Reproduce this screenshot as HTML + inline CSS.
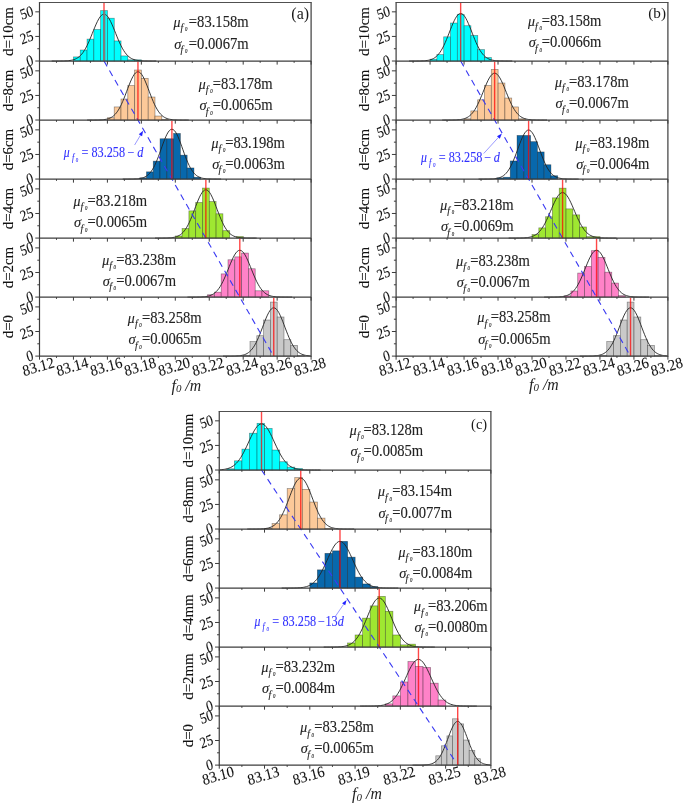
<!DOCTYPE html>
<html><head><meta charset="utf-8"><title>Histograms of f0</title>
<style>
html,body{margin:0;padding:0;background:#ffffff;}
body{width:685px;height:803px;overflow:hidden;font-family:"Liberation Serif",serif;}
svg{display:block;will-change:transform;}
</style></head><body>
<svg width="685" height="803" viewBox="0 0 685 803">
<rect x="73.45" y="56.92" width="6.80" height="4.10" fill="#00ffff" stroke="#000" stroke-opacity="0.42" stroke-width="0.7"/>
<rect x="80.25" y="50.02" width="6.80" height="11.00" fill="#00ffff" stroke="#000" stroke-opacity="0.42" stroke-width="0.7"/>
<rect x="87.05" y="39.12" width="6.80" height="21.90" fill="#00ffff" stroke="#000" stroke-opacity="0.42" stroke-width="0.7"/>
<rect x="93.85" y="29.52" width="6.80" height="31.50" fill="#00ffff" stroke="#000" stroke-opacity="0.42" stroke-width="0.7"/>
<rect x="100.65" y="10.62" width="6.80" height="50.40" fill="#00ffff" stroke="#000" stroke-opacity="0.42" stroke-width="0.7"/>
<rect x="107.45" y="18.22" width="6.80" height="42.80" fill="#00ffff" stroke="#000" stroke-opacity="0.42" stroke-width="0.7"/>
<rect x="114.25" y="40.92" width="6.80" height="20.10" fill="#00ffff" stroke="#000" stroke-opacity="0.42" stroke-width="0.7"/>
<rect x="121.05" y="55.92" width="6.80" height="5.10" fill="#00ffff" stroke="#000" stroke-opacity="0.42" stroke-width="0.7"/>
<rect x="127.85" y="59.82" width="6.80" height="1.20" fill="#00ffff" stroke="#000" stroke-opacity="0.42" stroke-width="0.7"/>
<rect x="134.65" y="59.82" width="6.80" height="1.20" fill="#00ffff" stroke="#000" stroke-opacity="0.42" stroke-width="0.7"/>
<polyline points="51.69,61.02 53.00,61.01 54.30,61.01 55.61,61.01 56.92,61.01 58.23,61.00 59.54,60.99 60.84,60.98 62.15,60.96 63.46,60.94 64.77,60.89 66.08,60.84 67.38,60.75 68.69,60.64 70.00,60.48 71.31,60.27 72.61,59.98 73.92,59.60 75.23,59.11 76.54,58.48 77.85,57.69 79.15,56.71 80.46,55.52 81.77,54.09 83.08,52.40 84.39,50.43 85.69,48.20 87.00,45.69 88.31,42.94 89.62,39.97 90.93,36.83 92.23,33.59 93.54,30.33 94.85,27.13 96.16,24.09 97.47,21.30 98.77,18.87 100.08,16.87 101.39,15.39 102.70,14.47 104.00,14.16 105.31,14.47 106.62,15.39 107.93,16.87 109.24,18.87 110.54,21.30 111.85,24.09 113.16,27.13 114.47,30.33 115.78,33.59 117.08,36.83 118.39,39.97 119.70,42.94 121.01,45.69 122.32,48.20 123.62,50.43 124.93,52.40 126.24,54.09 127.55,55.52 128.86,56.71 130.16,57.69 131.47,58.48 132.78,59.11 134.09,59.60 135.40,59.98 136.70,60.27 138.01,60.48 139.32,60.64 140.63,60.75 141.93,60.84 143.24,60.89 144.55,60.94 145.86,60.96 147.17,60.98 148.47,60.99 149.78,61.00 151.09,61.01 152.40,61.01 153.71,61.01 155.01,61.01 156.32,61.02" fill="none" stroke="#222" stroke-width="0.9"/>
<rect x="107.40" y="117.73" width="6.80" height="2.30" fill="#fcc999" stroke="#000" stroke-opacity="0.42" stroke-width="0.7"/>
<rect x="114.20" y="106.93" width="6.80" height="13.10" fill="#fcc999" stroke="#000" stroke-opacity="0.42" stroke-width="0.7"/>
<rect x="121.00" y="99.03" width="6.80" height="21.00" fill="#fcc999" stroke="#000" stroke-opacity="0.42" stroke-width="0.7"/>
<rect x="127.80" y="85.53" width="6.80" height="34.50" fill="#fcc999" stroke="#000" stroke-opacity="0.42" stroke-width="0.7"/>
<rect x="134.60" y="70.03" width="6.80" height="50.00" fill="#fcc999" stroke="#000" stroke-opacity="0.42" stroke-width="0.7"/>
<rect x="141.40" y="78.33" width="6.80" height="41.70" fill="#fcc999" stroke="#000" stroke-opacity="0.42" stroke-width="0.7"/>
<rect x="148.20" y="97.03" width="6.80" height="23.00" fill="#fcc999" stroke="#000" stroke-opacity="0.42" stroke-width="0.7"/>
<rect x="155.00" y="116.03" width="6.80" height="4.00" fill="#fcc999" stroke="#000" stroke-opacity="0.42" stroke-width="0.7"/>
<rect x="161.80" y="119.43" width="6.80" height="0.60" fill="#fcc999" stroke="#000" stroke-opacity="0.42" stroke-width="0.7"/>
<polyline points="87.20,120.03 88.47,120.03 89.74,120.03 91.01,120.03 92.28,120.02 93.54,120.02 94.81,120.01 96.08,120.00 97.35,119.98 98.62,119.95 99.89,119.91 101.16,119.85 102.43,119.76 103.70,119.64 104.96,119.48 106.23,119.26 107.50,118.96 108.77,118.57 110.04,118.07 111.31,117.42 112.58,116.60 113.85,115.60 115.12,114.36 116.38,112.89 117.65,111.15 118.92,109.12 120.19,106.82 121.46,104.24 122.73,101.40 124.00,98.34 125.27,95.10 126.54,91.77 127.80,88.40 129.07,85.10 130.34,81.97 131.61,79.10 132.88,76.59 134.15,74.53 135.42,73.00 136.69,72.06 137.95,71.74 139.22,72.06 140.49,73.00 141.76,74.53 143.03,76.59 144.30,79.10 145.57,81.97 146.84,85.10 148.11,88.40 149.37,91.77 150.64,95.10 151.91,98.34 153.18,101.40 154.45,104.24 155.72,106.82 156.99,109.12 158.26,111.15 159.53,112.89 160.79,114.36 162.06,115.60 163.33,116.60 164.60,117.42 165.87,118.07 167.14,118.57 168.41,118.96 169.68,119.26 170.95,119.48 172.21,119.64 173.48,119.76 174.75,119.85 176.02,119.91 177.29,119.95 178.56,119.98 179.83,120.00 181.10,120.01 182.37,120.02 183.63,120.02 184.90,120.03 186.17,120.03 187.44,120.03 188.71,120.03" fill="none" stroke="#222" stroke-width="0.9"/>
<rect x="139.70" y="177.85" width="6.78" height="1.20" fill="#0868ac" stroke="#000" stroke-opacity="0.42" stroke-width="0.7"/>
<rect x="146.48" y="171.85" width="6.78" height="7.20" fill="#0868ac" stroke="#000" stroke-opacity="0.42" stroke-width="0.7"/>
<rect x="153.26" y="161.15" width="6.78" height="17.90" fill="#0868ac" stroke="#000" stroke-opacity="0.42" stroke-width="0.7"/>
<rect x="160.04" y="138.75" width="6.78" height="40.30" fill="#0868ac" stroke="#000" stroke-opacity="0.42" stroke-width="0.7"/>
<rect x="166.82" y="138.75" width="6.78" height="40.30" fill="#0868ac" stroke="#000" stroke-opacity="0.42" stroke-width="0.7"/>
<rect x="173.60" y="133.45" width="6.78" height="45.60" fill="#0868ac" stroke="#000" stroke-opacity="0.42" stroke-width="0.7"/>
<rect x="180.38" y="155.15" width="6.78" height="23.90" fill="#0868ac" stroke="#000" stroke-opacity="0.42" stroke-width="0.7"/>
<rect x="187.16" y="167.95" width="6.78" height="11.10" fill="#0868ac" stroke="#000" stroke-opacity="0.42" stroke-width="0.7"/>
<rect x="193.94" y="177.25" width="6.78" height="1.80" fill="#0868ac" stroke="#000" stroke-opacity="0.42" stroke-width="0.7"/>
<polyline points="122.71,179.05 123.94,179.05 125.17,179.05 126.40,179.04 127.63,179.04 128.86,179.03 130.09,179.03 131.32,179.01 132.55,178.99 133.78,178.96 135.01,178.92 136.24,178.86 137.47,178.77 138.70,178.65 139.93,178.48 141.16,178.25 142.39,177.95 143.62,177.54 144.85,177.02 146.08,176.35 147.31,175.51 148.54,174.47 149.77,173.20 151.00,171.68 152.23,169.88 153.46,167.80 154.69,165.42 155.92,162.75 157.15,159.82 158.38,156.66 159.61,153.33 160.84,149.88 162.07,146.41 163.30,143.01 164.53,139.78 165.76,136.81 166.99,134.22 168.22,132.10 169.45,130.52 170.68,129.55 171.90,129.22 173.13,129.55 174.36,130.52 175.59,132.10 176.82,134.22 178.05,136.81 179.28,139.78 180.51,143.01 181.74,146.41 182.97,149.88 184.20,153.33 185.43,156.66 186.66,159.82 187.89,162.75 189.12,165.42 190.35,167.80 191.58,169.88 192.81,171.68 194.04,173.20 195.27,174.47 196.50,175.51 197.73,176.35 198.96,177.02 200.19,177.54 201.42,177.95 202.65,178.25 203.88,178.48 205.11,178.65 206.34,178.77 207.57,178.86 208.80,178.92 210.03,178.96 211.26,178.99 212.49,179.01 213.72,179.03 214.95,179.03 216.18,179.04 217.41,179.04 218.64,179.05 219.87,179.05 221.10,179.05" fill="none" stroke="#222" stroke-width="0.9"/>
<rect x="175.30" y="235.97" width="6.80" height="2.10" fill="#9fe731" stroke="#000" stroke-opacity="0.42" stroke-width="0.7"/>
<rect x="182.10" y="228.57" width="6.80" height="9.50" fill="#9fe731" stroke="#000" stroke-opacity="0.42" stroke-width="0.7"/>
<rect x="188.90" y="210.87" width="6.80" height="27.20" fill="#9fe731" stroke="#000" stroke-opacity="0.42" stroke-width="0.7"/>
<rect x="195.70" y="202.47" width="6.80" height="35.60" fill="#9fe731" stroke="#000" stroke-opacity="0.42" stroke-width="0.7"/>
<rect x="202.50" y="188.07" width="6.80" height="50.00" fill="#9fe731" stroke="#000" stroke-opacity="0.42" stroke-width="0.7"/>
<rect x="209.30" y="201.57" width="6.80" height="36.50" fill="#9fe731" stroke="#000" stroke-opacity="0.42" stroke-width="0.7"/>
<rect x="216.10" y="213.77" width="6.80" height="24.30" fill="#9fe731" stroke="#000" stroke-opacity="0.42" stroke-width="0.7"/>
<rect x="222.90" y="230.67" width="6.80" height="7.40" fill="#9fe731" stroke="#000" stroke-opacity="0.42" stroke-width="0.7"/>
<rect x="236.50" y="236.57" width="6.80" height="1.50" fill="#9fe731" stroke="#000" stroke-opacity="0.42" stroke-width="0.7"/>
<polyline points="155.10,238.07 156.37,238.06 157.64,238.06 158.91,238.06 160.18,238.06 161.44,238.05 162.71,238.04 163.98,238.03 165.25,238.01 166.52,237.98 167.79,237.94 169.06,237.88 170.33,237.80 171.60,237.68 172.86,237.51 174.13,237.29 175.40,237.00 176.67,236.61 177.94,236.10 179.21,235.45 180.48,234.64 181.75,233.63 183.02,232.40 184.28,230.92 185.55,229.18 186.82,227.16 188.09,224.85 189.36,222.27 190.63,219.43 191.90,216.37 193.17,213.14 194.44,209.80 195.70,206.44 196.97,203.14 198.24,200.00 199.51,197.13 200.78,194.62 202.05,192.56 203.32,191.03 204.59,190.09 205.86,189.77 207.12,190.09 208.39,191.03 209.66,192.56 210.93,194.62 212.20,197.13 213.47,200.00 214.74,203.14 216.01,206.44 217.27,209.80 218.54,213.14 219.81,216.37 221.08,219.43 222.35,222.27 223.62,224.85 224.89,227.16 226.16,229.18 227.43,230.92 228.69,232.40 229.96,233.63 231.23,234.64 232.50,235.45 233.77,236.10 235.04,236.61 236.31,237.00 237.58,237.29 238.85,237.51 240.11,237.68 241.38,237.80 242.65,237.88 243.92,237.94 245.19,237.98 246.46,238.01 247.73,238.03 249.00,238.04 250.27,238.05 251.53,238.06 252.80,238.06 254.07,238.06 255.34,238.06 256.61,238.07" fill="none" stroke="#222" stroke-width="0.9"/>
<rect x="207.60" y="294.78" width="6.80" height="2.30" fill="#ff82c8" stroke="#000" stroke-opacity="0.42" stroke-width="0.7"/>
<rect x="214.40" y="292.18" width="6.80" height="4.90" fill="#ff82c8" stroke="#000" stroke-opacity="0.42" stroke-width="0.7"/>
<rect x="221.20" y="273.88" width="6.80" height="23.20" fill="#ff82c8" stroke="#000" stroke-opacity="0.42" stroke-width="0.7"/>
<rect x="228.00" y="259.78" width="6.80" height="37.30" fill="#ff82c8" stroke="#000" stroke-opacity="0.42" stroke-width="0.7"/>
<rect x="234.80" y="256.88" width="6.80" height="40.20" fill="#ff82c8" stroke="#000" stroke-opacity="0.42" stroke-width="0.7"/>
<rect x="241.60" y="253.08" width="6.80" height="44.00" fill="#ff82c8" stroke="#000" stroke-opacity="0.42" stroke-width="0.7"/>
<rect x="248.40" y="268.78" width="6.80" height="28.30" fill="#ff82c8" stroke="#000" stroke-opacity="0.42" stroke-width="0.7"/>
<rect x="255.20" y="290.78" width="6.80" height="6.30" fill="#ff82c8" stroke="#000" stroke-opacity="0.42" stroke-width="0.7"/>
<rect x="262.00" y="290.78" width="6.80" height="6.30" fill="#ff82c8" stroke="#000" stroke-opacity="0.42" stroke-width="0.7"/>
<polyline points="187.49,297.08 188.80,297.08 190.10,297.08 191.41,297.08 192.72,297.07 194.03,297.07 195.34,297.06 196.64,297.05 197.95,297.03 199.26,297.00 200.57,296.96 201.88,296.90 203.18,296.82 204.49,296.71 205.80,296.55 207.11,296.33 208.41,296.04 209.72,295.67 211.03,295.17 212.34,294.55 213.65,293.76 214.95,292.78 216.26,291.58 217.57,290.15 218.88,288.46 220.19,286.50 221.49,284.26 222.80,281.76 224.11,279.00 225.42,276.03 226.73,272.90 228.03,269.66 229.34,266.40 230.65,263.20 231.96,260.15 233.27,257.37 234.57,254.93 235.88,252.94 237.19,251.45 238.50,250.54 239.80,250.23 241.11,250.54 242.42,251.45 243.73,252.94 245.04,254.93 246.34,257.37 247.65,260.15 248.96,263.20 250.27,266.40 251.58,269.66 252.88,272.90 254.19,276.03 255.50,279.00 256.81,281.76 258.12,284.26 259.42,286.50 260.73,288.46 262.04,290.15 263.35,291.58 264.66,292.78 265.96,293.76 267.27,294.55 268.58,295.17 269.89,295.67 271.20,296.04 272.50,296.33 273.81,296.55 275.12,296.71 276.43,296.82 277.73,296.90 279.04,296.96 280.35,297.00 281.66,297.03 282.97,297.05 284.27,297.06 285.58,297.07 286.89,297.07 288.20,297.08 289.51,297.08 290.81,297.08 292.12,297.08" fill="none" stroke="#222" stroke-width="0.9"/>
<rect x="243.20" y="355.30" width="6.80" height="0.80" fill="#c9c9c9" stroke="#000" stroke-opacity="0.42" stroke-width="0.7"/>
<rect x="250.00" y="341.60" width="6.80" height="14.50" fill="#c9c9c9" stroke="#000" stroke-opacity="0.42" stroke-width="0.7"/>
<rect x="256.80" y="335.70" width="6.80" height="20.40" fill="#c9c9c9" stroke="#000" stroke-opacity="0.42" stroke-width="0.7"/>
<rect x="263.60" y="320.00" width="6.80" height="36.10" fill="#c9c9c9" stroke="#000" stroke-opacity="0.42" stroke-width="0.7"/>
<rect x="270.40" y="302.10" width="6.80" height="54.00" fill="#c9c9c9" stroke="#000" stroke-opacity="0.42" stroke-width="0.7"/>
<rect x="277.20" y="317.00" width="6.80" height="39.10" fill="#c9c9c9" stroke="#000" stroke-opacity="0.42" stroke-width="0.7"/>
<rect x="284.00" y="339.70" width="6.80" height="16.40" fill="#c9c9c9" stroke="#000" stroke-opacity="0.42" stroke-width="0.7"/>
<rect x="290.80" y="345.40" width="6.80" height="10.70" fill="#c9c9c9" stroke="#000" stroke-opacity="0.42" stroke-width="0.7"/>
<rect x="297.60" y="355.60" width="6.80" height="0.50" fill="#c9c9c9" stroke="#000" stroke-opacity="0.42" stroke-width="0.7"/>
<polyline points="223.00,356.10 224.27,356.10 225.54,356.10 226.81,356.09 228.08,356.09 229.34,356.09 230.61,356.08 231.88,356.06 233.15,356.04 234.42,356.02 235.69,355.97 236.96,355.91 238.23,355.83 239.50,355.71 240.76,355.55 242.03,355.33 243.30,355.03 244.57,354.64 245.84,354.13 247.11,353.49 248.38,352.67 249.65,351.66 250.92,350.43 252.18,348.96 253.45,347.21 254.72,345.19 255.99,342.89 257.26,340.30 258.53,337.46 259.80,334.40 261.07,331.17 262.34,327.83 263.60,324.47 264.87,321.17 266.14,318.03 267.41,315.16 268.68,312.65 269.95,310.59 271.22,309.06 272.49,308.12 273.75,307.80 275.02,308.12 276.29,309.06 277.56,310.59 278.83,312.65 280.10,315.16 281.37,318.03 282.64,321.17 283.91,324.47 285.17,327.83 286.44,331.17 287.71,334.40 288.98,337.46 290.25,340.30 291.52,342.89 292.79,345.19 294.06,347.21 295.33,348.96 296.59,350.43 297.86,351.66 299.13,352.67 300.40,353.49 301.67,354.13 302.94,354.64 304.21,355.03 305.48,355.33 306.75,355.55 308.01,355.71 309.28,355.83 310.55,355.91" fill="none" stroke="#222" stroke-width="0.9"/>
<line x1="104.00" y1="61.02" x2="272.95" y2="354.90" stroke="#3a3af2" stroke-width="1.12" stroke-dasharray="6.2 4.8"/>
<line x1="104.00" y1="2.60" x2="104.00" y2="61.02" stroke="#ff0000" stroke-opacity="0.72" stroke-width="1.4"/>
<line x1="104.30" y1="10.62" x2="104.30" y2="61.02" stroke="#7d7d7d" stroke-width="2"/>
<line x1="137.95" y1="61.62" x2="137.95" y2="120.03" stroke="#ff0000" stroke-opacity="0.72" stroke-width="1.4"/>
<line x1="171.90" y1="120.63" x2="171.90" y2="179.05" stroke="#ff0000" stroke-opacity="0.72" stroke-width="1.4"/>
<line x1="205.86" y1="179.65" x2="205.86" y2="238.07" stroke="#ff0000" stroke-opacity="0.72" stroke-width="1.4"/>
<line x1="239.80" y1="238.67" x2="239.80" y2="297.08" stroke="#ff0000" stroke-opacity="0.72" stroke-width="1.4"/>
<line x1="273.75" y1="297.68" x2="273.75" y2="356.10" stroke="#ff0000" stroke-opacity="0.72" stroke-width="1.4"/>
<line x1="38.90" y1="2.47" x2="311.70" y2="2.47" stroke="#505050" stroke-width="1.15"/>
<line x1="39.50" y1="2.47" x2="39.50" y2="356.70" stroke="#3c3c3c" stroke-width="1.2"/>
<line x1="311.10" y1="2.47" x2="311.10" y2="356.70" stroke="#3c3c3c" stroke-width="1.2"/>
<line x1="39.50" y1="61.02" x2="311.10" y2="61.02" stroke="#3c3c3c" stroke-width="1.25"/>
<path d="M39.50,61.02v3.6 M56.48,61.02v1.8 M73.45,61.02v3.6 M90.43,61.02v1.8 M107.40,61.02v3.6 M124.38,61.02v1.8 M141.35,61.02v3.6 M158.33,61.02v1.8 M175.30,61.02v3.6 M192.28,61.02v1.8 M209.25,61.02v3.6 M226.23,61.02v1.8 M243.20,61.02v3.6 M260.18,61.02v1.8 M277.15,61.02v3.6 M294.13,61.02v1.8 M311.10,61.02v3.6" stroke="#3c3c3c" stroke-width="1" fill="none"/>
<path d="M39.50,61.02h-4.2 M39.50,48.72h-2.2 M39.50,36.43h-4.2 M39.50,24.13h-2.2 M39.50,11.84h-4.2" stroke="#3c3c3c" stroke-width="1" fill="none"/>
<text transform="translate(33.00,59.42) scale(0.85,1) rotate(-18.5)" y="5.2" text-anchor="end" font-family="Liberation Serif, serif" font-size="15.6" fill="#111" stroke="#111" stroke-width="0.1">0</text>
<text transform="translate(33.00,34.83) scale(0.85,1) rotate(-18.5)" y="5.2" text-anchor="end" font-family="Liberation Serif, serif" font-size="15.6" fill="#111" stroke="#111" stroke-width="0.1">25</text>
<text transform="translate(33.00,10.24) scale(0.85,1) rotate(-18.5)" y="5.2" text-anchor="end" font-family="Liberation Serif, serif" font-size="15.6" fill="#111" stroke="#111" stroke-width="0.1">50</text>
<text transform="translate(12.80,31.51) rotate(-90)" text-anchor="middle" font-family="Liberation Serif, serif" font-size="14.9" fill="#111" stroke="#111" stroke-width="0.1">d=10cm</text>
<g transform="translate(173.00,26.80) scale(0.925,1)" font-family="Liberation Serif, serif" font-size="15.8" fill="#222" stroke="#222" stroke-width="0.12"><text font-style="italic" font-size="15.0" x="0.6">μ</text><text font-style="italic" font-size="10.6" x="8.22" y="4.4">f</text><text font-size="5.2" font-style="italic" x="12.97" y="4.5">0</text></g>
<text transform="translate(248.60,26.80) scale(0.925,1)" text-anchor="end" font-family="Liberation Serif, serif" font-size="15.8" fill="#222" stroke="#222" stroke-width="0.12">=83.158m</text>
<g transform="translate(174.20,48.60) scale(0.925,1)" font-family="Liberation Serif, serif" font-size="15.8" fill="#222" stroke="#222" stroke-width="0.12"><text font-style="italic" font-size="15.6" x="0">σ</text><text font-style="italic" font-size="10.6" x="6.92" y="4.4">f</text><text font-size="5.2" font-style="italic" x="11.68" y="4.5">0</text></g>
<text transform="translate(248.60,48.60) scale(0.925,1)" text-anchor="end" font-family="Liberation Serif, serif" font-size="15.8" fill="#222" stroke="#222" stroke-width="0.12">=0.0067m</text>
<line x1="39.50" y1="120.03" x2="311.10" y2="120.03" stroke="#3c3c3c" stroke-width="1.25"/>
<path d="M39.50,120.03v3.6 M56.48,120.03v1.8 M73.45,120.03v3.6 M90.43,120.03v1.8 M107.40,120.03v3.6 M124.38,120.03v1.8 M141.35,120.03v3.6 M158.33,120.03v1.8 M175.30,120.03v3.6 M192.28,120.03v1.8 M209.25,120.03v3.6 M226.23,120.03v1.8 M243.20,120.03v3.6 M260.18,120.03v1.8 M277.15,120.03v3.6 M294.13,120.03v1.8 M311.10,120.03v3.6" stroke="#3c3c3c" stroke-width="1" fill="none"/>
<path d="M39.50,120.03h-4.2 M39.50,107.74h-2.2 M39.50,95.44h-4.2 M39.50,83.15h-2.2 M39.50,70.85h-4.2" stroke="#3c3c3c" stroke-width="1" fill="none"/>
<text transform="translate(33.00,118.43) scale(0.85,1) rotate(-18.5)" y="5.2" text-anchor="end" font-family="Liberation Serif, serif" font-size="15.6" fill="#111" stroke="#111" stroke-width="0.1">0</text>
<text transform="translate(33.00,93.84) scale(0.85,1) rotate(-18.5)" y="5.2" text-anchor="end" font-family="Liberation Serif, serif" font-size="15.6" fill="#111" stroke="#111" stroke-width="0.1">25</text>
<text transform="translate(33.00,69.25) scale(0.85,1) rotate(-18.5)" y="5.2" text-anchor="end" font-family="Liberation Serif, serif" font-size="15.6" fill="#111" stroke="#111" stroke-width="0.1">50</text>
<text transform="translate(12.80,90.53) rotate(-90)" text-anchor="middle" font-family="Liberation Serif, serif" font-size="14.9" fill="#111" stroke="#111" stroke-width="0.1">d=8cm</text>
<g transform="translate(198.20,88.70) scale(0.925,1)" font-family="Liberation Serif, serif" font-size="15.8" fill="#222" stroke="#222" stroke-width="0.12"><text font-style="italic" font-size="15.0" x="0.6">μ</text><text font-style="italic" font-size="10.6" x="8.22" y="4.4">f</text><text font-size="5.2" font-style="italic" x="12.97" y="4.5">0</text></g>
<text transform="translate(272.60,88.70) scale(0.925,1)" text-anchor="end" font-family="Liberation Serif, serif" font-size="15.8" fill="#222" stroke="#222" stroke-width="0.12">=83.178m</text>
<g transform="translate(199.40,110.10) scale(0.925,1)" font-family="Liberation Serif, serif" font-size="15.8" fill="#222" stroke="#222" stroke-width="0.12"><text font-style="italic" font-size="15.6" x="0">σ</text><text font-style="italic" font-size="10.6" x="6.92" y="4.4">f</text><text font-size="5.2" font-style="italic" x="11.68" y="4.5">0</text></g>
<text transform="translate(272.60,110.10) scale(0.925,1)" text-anchor="end" font-family="Liberation Serif, serif" font-size="15.8" fill="#222" stroke="#222" stroke-width="0.12">=0.0065m</text>
<line x1="39.50" y1="179.05" x2="311.10" y2="179.05" stroke="#3c3c3c" stroke-width="1.25"/>
<path d="M39.50,179.05v3.6 M56.48,179.05v1.8 M73.45,179.05v3.6 M90.43,179.05v1.8 M107.40,179.05v3.6 M124.38,179.05v1.8 M141.35,179.05v3.6 M158.33,179.05v1.8 M175.30,179.05v3.6 M192.28,179.05v1.8 M209.25,179.05v3.6 M226.23,179.05v1.8 M243.20,179.05v3.6 M260.18,179.05v1.8 M277.15,179.05v3.6 M294.13,179.05v1.8 M311.10,179.05v3.6" stroke="#3c3c3c" stroke-width="1" fill="none"/>
<path d="M39.50,179.05h-4.2 M39.50,166.75h-2.2 M39.50,154.46h-4.2 M39.50,142.16h-2.2 M39.50,129.87h-4.2" stroke="#3c3c3c" stroke-width="1" fill="none"/>
<text transform="translate(33.00,177.45) scale(0.85,1) rotate(-18.5)" y="5.2" text-anchor="end" font-family="Liberation Serif, serif" font-size="15.6" fill="#111" stroke="#111" stroke-width="0.1">0</text>
<text transform="translate(33.00,152.86) scale(0.85,1) rotate(-18.5)" y="5.2" text-anchor="end" font-family="Liberation Serif, serif" font-size="15.6" fill="#111" stroke="#111" stroke-width="0.1">25</text>
<text transform="translate(33.00,128.27) scale(0.85,1) rotate(-18.5)" y="5.2" text-anchor="end" font-family="Liberation Serif, serif" font-size="15.6" fill="#111" stroke="#111" stroke-width="0.1">50</text>
<text transform="translate(12.80,149.54) rotate(-90)" text-anchor="middle" font-family="Liberation Serif, serif" font-size="14.9" fill="#111" stroke="#111" stroke-width="0.1">d=6cm</text>
<g transform="translate(211.00,147.90) scale(0.925,1)" font-family="Liberation Serif, serif" font-size="15.8" fill="#222" stroke="#222" stroke-width="0.12"><text font-style="italic" font-size="15.0" x="0.6">μ</text><text font-style="italic" font-size="10.6" x="8.22" y="4.4">f</text><text font-size="5.2" font-style="italic" x="12.97" y="4.5">0</text></g>
<text transform="translate(284.90,147.90) scale(0.925,1)" text-anchor="end" font-family="Liberation Serif, serif" font-size="15.8" fill="#222" stroke="#222" stroke-width="0.12">=83.198m</text>
<g transform="translate(212.20,168.90) scale(0.925,1)" font-family="Liberation Serif, serif" font-size="15.8" fill="#222" stroke="#222" stroke-width="0.12"><text font-style="italic" font-size="15.6" x="0">σ</text><text font-style="italic" font-size="10.6" x="6.92" y="4.4">f</text><text font-size="5.2" font-style="italic" x="11.68" y="4.5">0</text></g>
<text transform="translate(284.90,168.90) scale(0.925,1)" text-anchor="end" font-family="Liberation Serif, serif" font-size="15.8" fill="#222" stroke="#222" stroke-width="0.12">=0.0063m</text>
<line x1="39.50" y1="238.07" x2="311.10" y2="238.07" stroke="#3c3c3c" stroke-width="1.25"/>
<path d="M39.50,238.07v3.6 M56.48,238.07v1.8 M73.45,238.07v3.6 M90.43,238.07v1.8 M107.40,238.07v3.6 M124.38,238.07v1.8 M141.35,238.07v3.6 M158.33,238.07v1.8 M175.30,238.07v3.6 M192.28,238.07v1.8 M209.25,238.07v3.6 M226.23,238.07v1.8 M243.20,238.07v3.6 M260.18,238.07v1.8 M277.15,238.07v3.6 M294.13,238.07v1.8 M311.10,238.07v3.6" stroke="#3c3c3c" stroke-width="1" fill="none"/>
<path d="M39.50,238.07h-4.2 M39.50,225.77h-2.2 M39.50,213.48h-4.2 M39.50,201.18h-2.2 M39.50,188.89h-4.2" stroke="#3c3c3c" stroke-width="1" fill="none"/>
<text transform="translate(33.00,236.47) scale(0.85,1) rotate(-18.5)" y="5.2" text-anchor="end" font-family="Liberation Serif, serif" font-size="15.6" fill="#111" stroke="#111" stroke-width="0.1">0</text>
<text transform="translate(33.00,211.88) scale(0.85,1) rotate(-18.5)" y="5.2" text-anchor="end" font-family="Liberation Serif, serif" font-size="15.6" fill="#111" stroke="#111" stroke-width="0.1">25</text>
<text transform="translate(33.00,187.29) scale(0.85,1) rotate(-18.5)" y="5.2" text-anchor="end" font-family="Liberation Serif, serif" font-size="15.6" fill="#111" stroke="#111" stroke-width="0.1">50</text>
<text transform="translate(12.80,208.56) rotate(-90)" text-anchor="middle" font-family="Liberation Serif, serif" font-size="14.9" fill="#111" stroke="#111" stroke-width="0.1">d=4cm</text>
<g transform="translate(72.90,205.60) scale(0.925,1)" font-family="Liberation Serif, serif" font-size="15.8" fill="#222" stroke="#222" stroke-width="0.12"><text font-style="italic" font-size="15.0" x="0.6">μ</text><text font-style="italic" font-size="10.6" x="8.22" y="4.4">f</text><text font-size="5.2" font-style="italic" x="12.97" y="4.5">0</text></g>
<text transform="translate(147.20,205.60) scale(0.925,1)" text-anchor="end" font-family="Liberation Serif, serif" font-size="15.8" fill="#222" stroke="#222" stroke-width="0.12">=83.218m</text>
<g transform="translate(74.10,227.10) scale(0.925,1)" font-family="Liberation Serif, serif" font-size="15.8" fill="#222" stroke="#222" stroke-width="0.12"><text font-style="italic" font-size="15.6" x="0">σ</text><text font-style="italic" font-size="10.6" x="6.92" y="4.4">f</text><text font-size="5.2" font-style="italic" x="11.68" y="4.5">0</text></g>
<text transform="translate(147.20,227.10) scale(0.925,1)" text-anchor="end" font-family="Liberation Serif, serif" font-size="15.8" fill="#222" stroke="#222" stroke-width="0.12">=0.0065m</text>
<line x1="39.50" y1="297.08" x2="311.10" y2="297.08" stroke="#3c3c3c" stroke-width="1.25"/>
<path d="M39.50,297.08v3.6 M56.48,297.08v1.8 M73.45,297.08v3.6 M90.43,297.08v1.8 M107.40,297.08v3.6 M124.38,297.08v1.8 M141.35,297.08v3.6 M158.33,297.08v1.8 M175.30,297.08v3.6 M192.28,297.08v1.8 M209.25,297.08v3.6 M226.23,297.08v1.8 M243.20,297.08v3.6 M260.18,297.08v1.8 M277.15,297.08v3.6 M294.13,297.08v1.8 M311.10,297.08v3.6" stroke="#3c3c3c" stroke-width="1" fill="none"/>
<path d="M39.50,297.08h-4.2 M39.50,284.79h-2.2 M39.50,272.49h-4.2 M39.50,260.20h-2.2 M39.50,247.90h-4.2" stroke="#3c3c3c" stroke-width="1" fill="none"/>
<text transform="translate(33.00,295.48) scale(0.85,1) rotate(-18.5)" y="5.2" text-anchor="end" font-family="Liberation Serif, serif" font-size="15.6" fill="#111" stroke="#111" stroke-width="0.1">0</text>
<text transform="translate(33.00,270.89) scale(0.85,1) rotate(-18.5)" y="5.2" text-anchor="end" font-family="Liberation Serif, serif" font-size="15.6" fill="#111" stroke="#111" stroke-width="0.1">25</text>
<text transform="translate(33.00,246.30) scale(0.85,1) rotate(-18.5)" y="5.2" text-anchor="end" font-family="Liberation Serif, serif" font-size="15.6" fill="#111" stroke="#111" stroke-width="0.1">50</text>
<text transform="translate(12.80,267.58) rotate(-90)" text-anchor="middle" font-family="Liberation Serif, serif" font-size="14.9" fill="#111" stroke="#111" stroke-width="0.1">d=2cm</text>
<g transform="translate(101.60,264.50) scale(0.925,1)" font-family="Liberation Serif, serif" font-size="15.8" fill="#222" stroke="#222" stroke-width="0.12"><text font-style="italic" font-size="15.0" x="0.6">μ</text><text font-style="italic" font-size="10.6" x="8.22" y="4.4">f</text><text font-size="5.2" font-style="italic" x="12.97" y="4.5">0</text></g>
<text transform="translate(176.00,264.50) scale(0.925,1)" text-anchor="end" font-family="Liberation Serif, serif" font-size="15.8" fill="#222" stroke="#222" stroke-width="0.12">=83.238m</text>
<g transform="translate(102.80,286.00) scale(0.925,1)" font-family="Liberation Serif, serif" font-size="15.8" fill="#222" stroke="#222" stroke-width="0.12"><text font-style="italic" font-size="15.6" x="0">σ</text><text font-style="italic" font-size="10.6" x="6.92" y="4.4">f</text><text font-size="5.2" font-style="italic" x="11.68" y="4.5">0</text></g>
<text transform="translate(176.00,286.00) scale(0.925,1)" text-anchor="end" font-family="Liberation Serif, serif" font-size="15.8" fill="#222" stroke="#222" stroke-width="0.12">=0.0067m</text>
<line x1="39.50" y1="356.10" x2="311.10" y2="356.10" stroke="#3c3c3c" stroke-width="1.25"/>
<path d="M39.50,356.10v3.6 M56.48,356.10v1.8 M73.45,356.10v3.6 M90.43,356.10v1.8 M107.40,356.10v3.6 M124.38,356.10v1.8 M141.35,356.10v3.6 M158.33,356.10v1.8 M175.30,356.10v3.6 M192.28,356.10v1.8 M209.25,356.10v3.6 M226.23,356.10v1.8 M243.20,356.10v3.6 M260.18,356.10v1.8 M277.15,356.10v3.6 M294.13,356.10v1.8 M311.10,356.10v3.6" stroke="#3c3c3c" stroke-width="1" fill="none"/>
<path d="M39.50,356.10h-4.2 M39.50,343.80h-2.2 M39.50,331.51h-4.2 M39.50,319.21h-2.2 M39.50,306.92h-4.2" stroke="#3c3c3c" stroke-width="1" fill="none"/>
<text transform="translate(33.00,354.50) scale(0.85,1) rotate(-18.5)" y="5.2" text-anchor="end" font-family="Liberation Serif, serif" font-size="15.6" fill="#111" stroke="#111" stroke-width="0.1">0</text>
<text transform="translate(33.00,329.91) scale(0.85,1) rotate(-18.5)" y="5.2" text-anchor="end" font-family="Liberation Serif, serif" font-size="15.6" fill="#111" stroke="#111" stroke-width="0.1">25</text>
<text transform="translate(33.00,305.32) scale(0.85,1) rotate(-18.5)" y="5.2" text-anchor="end" font-family="Liberation Serif, serif" font-size="15.6" fill="#111" stroke="#111" stroke-width="0.1">50</text>
<text transform="translate(12.80,326.59) rotate(-90)" text-anchor="middle" font-family="Liberation Serif, serif" font-size="14.9" fill="#111" stroke="#111" stroke-width="0.1">d=0</text>
<g transform="translate(127.30,322.90) scale(0.925,1)" font-family="Liberation Serif, serif" font-size="15.8" fill="#222" stroke="#222" stroke-width="0.12"><text font-style="italic" font-size="15.0" x="0.6">μ</text><text font-style="italic" font-size="10.6" x="8.22" y="4.4">f</text><text font-size="5.2" font-style="italic" x="12.97" y="4.5">0</text></g>
<text transform="translate(201.70,322.90) scale(0.925,1)" text-anchor="end" font-family="Liberation Serif, serif" font-size="15.8" fill="#222" stroke="#222" stroke-width="0.12">=83.258m</text>
<g transform="translate(128.50,344.40) scale(0.925,1)" font-family="Liberation Serif, serif" font-size="15.8" fill="#222" stroke="#222" stroke-width="0.12"><text font-style="italic" font-size="15.6" x="0">σ</text><text font-style="italic" font-size="10.6" x="6.92" y="4.4">f</text><text font-size="5.2" font-style="italic" x="11.68" y="4.5">0</text></g>
<text transform="translate(201.70,344.40) scale(0.925,1)" text-anchor="end" font-family="Liberation Serif, serif" font-size="15.8" fill="#222" stroke="#222" stroke-width="0.12">=0.0065m</text>
<text transform="translate(38.30,366.50) scale(0.925,1) rotate(-15.5)" text-anchor="middle" y="5.2" font-family="Liberation Serif, serif" font-size="15.6" fill="#111" stroke="#111" stroke-width="0.1">83.12</text>
<text transform="translate(72.25,366.50) scale(0.925,1) rotate(-15.5)" text-anchor="middle" y="5.2" font-family="Liberation Serif, serif" font-size="15.6" fill="#111" stroke="#111" stroke-width="0.1">83.14</text>
<text transform="translate(106.20,366.50) scale(0.925,1) rotate(-15.5)" text-anchor="middle" y="5.2" font-family="Liberation Serif, serif" font-size="15.6" fill="#111" stroke="#111" stroke-width="0.1">83.16</text>
<text transform="translate(140.15,366.50) scale(0.925,1) rotate(-15.5)" text-anchor="middle" y="5.2" font-family="Liberation Serif, serif" font-size="15.6" fill="#111" stroke="#111" stroke-width="0.1">83.18</text>
<text transform="translate(174.10,366.50) scale(0.925,1) rotate(-15.5)" text-anchor="middle" y="5.2" font-family="Liberation Serif, serif" font-size="15.6" fill="#111" stroke="#111" stroke-width="0.1">83.20</text>
<text transform="translate(208.05,366.50) scale(0.925,1) rotate(-15.5)" text-anchor="middle" y="5.2" font-family="Liberation Serif, serif" font-size="15.6" fill="#111" stroke="#111" stroke-width="0.1">83.22</text>
<text transform="translate(242.00,366.50) scale(0.925,1) rotate(-15.5)" text-anchor="middle" y="5.2" font-family="Liberation Serif, serif" font-size="15.6" fill="#111" stroke="#111" stroke-width="0.1">83.24</text>
<text transform="translate(275.95,366.50) scale(0.925,1) rotate(-15.5)" text-anchor="middle" y="5.2" font-family="Liberation Serif, serif" font-size="15.6" fill="#111" stroke="#111" stroke-width="0.1">83.26</text>
<text transform="translate(309.90,366.50) scale(0.925,1) rotate(-15.5)" text-anchor="middle" y="5.2" font-family="Liberation Serif, serif" font-size="15.6" fill="#111" stroke="#111" stroke-width="0.1">83.28</text>
<text x="171.40" y="390.80" font-family="Liberation Serif, serif" font-size="16.2" font-style="italic" fill="#222">f<tspan font-size="11" dy="1.6">0</tspan><tspan dy="-1.6" font-size="15.8"> /m</tspan></text>
<text x="291.30" y="18.90" font-family="Liberation Serif, serif" font-size="16" fill="#1a1a1a">(a)</text>
<g transform="translate(63.80,157.30) scale(0.84,1)" font-family="Liberation Serif, serif" font-size="14.6" fill="#3030ff" stroke="#3030ff" stroke-width="0.1"><text x="0" y="0" font-style="italic" font-size="14">μ</text><text x="9.76" y="3.9" font-style="italic" font-size="9.4">f</text><text x="14.29" y="5.0" font-style="italic" font-size="5.8">0</text><text x="20.95" y="0">=</text><text x="32.86" y="0">83.258</text><text x="75.48" y="0">−</text><text x="87.50" y="0" font-style="italic">d</text></g>
<line x1="134.60" y1="145.00" x2="140.43" y2="135.26" stroke="#4545ff" stroke-width="0.55"/>
<polygon points="143.10,130.80 142.06,136.24 138.80,134.29" fill="#2020ff"/>
<rect x="430.07" y="59.22" width="6.81" height="1.80" fill="#00ffff" stroke="#000" stroke-opacity="0.42" stroke-width="0.7"/>
<rect x="436.88" y="54.62" width="6.81" height="6.40" fill="#00ffff" stroke="#000" stroke-opacity="0.42" stroke-width="0.7"/>
<rect x="443.69" y="36.82" width="6.81" height="24.20" fill="#00ffff" stroke="#000" stroke-opacity="0.42" stroke-width="0.7"/>
<rect x="450.50" y="23.02" width="6.81" height="38.00" fill="#00ffff" stroke="#000" stroke-opacity="0.42" stroke-width="0.7"/>
<rect x="457.31" y="14.32" width="6.81" height="46.70" fill="#00ffff" stroke="#000" stroke-opacity="0.42" stroke-width="0.7"/>
<rect x="464.12" y="25.72" width="6.81" height="35.30" fill="#00ffff" stroke="#000" stroke-opacity="0.42" stroke-width="0.7"/>
<rect x="470.93" y="35.52" width="6.81" height="25.50" fill="#00ffff" stroke="#000" stroke-opacity="0.42" stroke-width="0.7"/>
<rect x="477.74" y="49.62" width="6.81" height="11.40" fill="#00ffff" stroke="#000" stroke-opacity="0.42" stroke-width="0.7"/>
<rect x="484.55" y="57.52" width="6.81" height="3.50" fill="#00ffff" stroke="#000" stroke-opacity="0.42" stroke-width="0.7"/>
<polyline points="409.08,61.02 410.37,61.01 411.66,61.01 412.95,61.01 414.24,61.01 415.53,61.00 416.81,60.99 418.10,60.98 419.39,60.96 420.68,60.93 421.97,60.89 423.26,60.83 424.55,60.75 425.84,60.63 427.13,60.47 428.42,60.25 429.71,59.96 431.00,59.58 432.29,59.08 433.58,58.44 434.87,57.64 436.15,56.65 437.44,55.43 438.73,53.98 440.02,52.26 441.31,50.27 442.60,48.00 443.89,45.46 445.18,42.66 446.47,39.65 447.76,36.46 449.05,33.18 450.34,29.86 451.63,26.62 452.92,23.53 454.21,20.70 455.50,18.23 456.78,16.20 458.07,14.69 459.36,13.77 460.65,13.45 461.94,13.77 463.23,14.69 464.52,16.20 465.81,18.23 467.10,20.70 468.39,23.53 469.68,26.62 470.97,29.86 472.26,33.18 473.55,36.46 474.84,39.65 476.12,42.66 477.41,45.46 478.70,48.00 479.99,50.27 481.28,52.26 482.57,53.98 483.86,55.43 485.15,56.65 486.44,57.64 487.73,58.44 489.02,59.08 490.31,59.58 491.60,59.96 492.89,60.25 494.18,60.47 495.46,60.63 496.75,60.75 498.04,60.83 499.33,60.89 500.62,60.93 501.91,60.96 503.20,60.98 504.49,60.99 505.78,61.00 507.07,61.01 508.36,61.01 509.65,61.01 510.94,61.01 512.23,61.02" fill="none" stroke="#222" stroke-width="0.9"/>
<rect x="464.05" y="118.83" width="6.81" height="1.20" fill="#fcc999" stroke="#000" stroke-opacity="0.42" stroke-width="0.7"/>
<rect x="470.86" y="110.93" width="6.81" height="9.10" fill="#fcc999" stroke="#000" stroke-opacity="0.42" stroke-width="0.7"/>
<rect x="477.67" y="99.83" width="6.81" height="20.20" fill="#fcc999" stroke="#000" stroke-opacity="0.42" stroke-width="0.7"/>
<rect x="484.48" y="85.53" width="6.81" height="34.50" fill="#fcc999" stroke="#000" stroke-opacity="0.42" stroke-width="0.7"/>
<rect x="491.29" y="69.43" width="6.81" height="50.60" fill="#fcc999" stroke="#000" stroke-opacity="0.42" stroke-width="0.7"/>
<rect x="498.10" y="83.03" width="6.81" height="37.00" fill="#fcc999" stroke="#000" stroke-opacity="0.42" stroke-width="0.7"/>
<rect x="504.91" y="98.03" width="6.81" height="22.00" fill="#fcc999" stroke="#000" stroke-opacity="0.42" stroke-width="0.7"/>
<rect x="511.72" y="106.93" width="6.81" height="13.10" fill="#fcc999" stroke="#000" stroke-opacity="0.42" stroke-width="0.7"/>
<rect x="518.53" y="118.83" width="6.81" height="1.20" fill="#fcc999" stroke="#000" stroke-opacity="0.42" stroke-width="0.7"/>
<polyline points="442.27,120.03 443.58,120.03 444.89,120.03 446.20,120.03 447.51,120.02 448.82,120.02 450.13,120.01 451.43,120.00 452.74,119.98 454.05,119.95 455.36,119.91 456.67,119.85 457.98,119.77 459.29,119.66 460.60,119.50 461.91,119.28 463.21,118.99 464.52,118.62 465.83,118.12 467.14,117.50 468.45,116.71 469.76,115.73 471.07,114.53 472.38,113.10 473.69,111.41 474.99,109.45 476.30,107.21 477.61,104.71 478.92,101.95 480.23,98.98 481.54,95.85 482.85,92.61 484.16,89.35 485.47,86.15 486.77,83.10 488.08,80.32 489.39,77.88 490.70,75.89 492.01,74.40 493.32,73.49 494.63,73.18 495.94,73.49 497.25,74.40 498.55,75.89 499.86,77.88 501.17,80.32 502.48,83.10 503.79,86.15 505.10,89.35 506.41,92.61 507.72,95.85 509.03,98.98 510.33,101.95 511.64,104.71 512.95,107.21 514.26,109.45 515.57,111.41 516.88,113.10 518.19,114.53 519.50,115.73 520.81,116.71 522.11,117.50 523.42,118.12 524.73,118.62 526.04,118.99 527.35,119.28 528.66,119.50 529.97,119.66 531.28,119.77 532.59,119.85 533.89,119.91 535.20,119.95 536.51,119.98 537.82,120.00 539.13,120.01 540.44,120.02 541.75,120.02 543.06,120.03 544.37,120.03 545.67,120.03 546.98,120.03" fill="none" stroke="#222" stroke-width="0.9"/>
<rect x="496.70" y="177.85" width="6.78" height="1.20" fill="#0868ac" stroke="#000" stroke-opacity="0.42" stroke-width="0.7"/>
<rect x="503.48" y="177.25" width="6.78" height="1.80" fill="#0868ac" stroke="#000" stroke-opacity="0.42" stroke-width="0.7"/>
<rect x="510.26" y="160.95" width="6.78" height="18.10" fill="#0868ac" stroke="#000" stroke-opacity="0.42" stroke-width="0.7"/>
<rect x="517.04" y="135.45" width="6.78" height="43.60" fill="#0868ac" stroke="#000" stroke-opacity="0.42" stroke-width="0.7"/>
<rect x="523.82" y="135.45" width="6.78" height="43.60" fill="#0868ac" stroke="#000" stroke-opacity="0.42" stroke-width="0.7"/>
<rect x="530.60" y="141.65" width="6.78" height="37.40" fill="#0868ac" stroke="#000" stroke-opacity="0.42" stroke-width="0.7"/>
<rect x="537.38" y="151.95" width="6.78" height="27.10" fill="#0868ac" stroke="#000" stroke-opacity="0.42" stroke-width="0.7"/>
<rect x="544.16" y="164.75" width="6.78" height="14.30" fill="#0868ac" stroke="#000" stroke-opacity="0.42" stroke-width="0.7"/>
<rect x="550.94" y="175.75" width="6.78" height="3.30" fill="#0868ac" stroke="#000" stroke-opacity="0.42" stroke-width="0.7"/>
<polyline points="478.59,179.05 479.84,179.05 481.09,179.05 482.34,179.04 483.59,179.04 484.84,179.04 486.09,179.03 487.34,179.01 488.59,178.99 489.84,178.96 491.09,178.92 492.34,178.86 493.59,178.78 494.84,178.65 496.10,178.49 497.35,178.26 498.60,177.96 499.85,177.57 501.10,177.05 502.35,176.39 503.60,175.57 504.85,174.54 506.10,173.29 507.35,171.79 508.60,170.02 509.85,167.97 511.10,165.63 512.35,163.01 513.60,160.12 514.85,157.01 516.10,153.73 517.35,150.34 518.60,146.92 519.85,143.57 521.10,140.39 522.35,137.47 523.60,134.92 524.85,132.83 526.10,131.28 527.35,130.32 528.60,130.00 529.85,130.32 531.10,131.28 532.35,132.83 533.60,134.92 534.85,137.47 536.10,140.39 537.35,143.57 538.60,146.92 539.86,150.34 541.11,153.73 542.36,157.01 543.61,160.12 544.86,163.01 546.11,165.63 547.36,167.97 548.61,170.02 549.86,171.79 551.11,173.29 552.36,174.54 553.61,175.57 554.86,176.39 556.11,177.05 557.36,177.57 558.61,177.96 559.86,178.26 561.11,178.49 562.36,178.65 563.61,178.78 564.86,178.86 566.11,178.92 567.36,178.96 568.61,178.99 569.86,179.01 571.11,179.03 572.36,179.04 573.61,179.04 574.86,179.04 576.11,179.05 577.36,179.05 578.61,179.05" fill="none" stroke="#222" stroke-width="0.9"/>
<rect x="532.00" y="234.57" width="6.81" height="3.50" fill="#9fe731" stroke="#000" stroke-opacity="0.42" stroke-width="0.7"/>
<rect x="538.81" y="227.87" width="6.81" height="10.20" fill="#9fe731" stroke="#000" stroke-opacity="0.42" stroke-width="0.7"/>
<rect x="545.62" y="216.77" width="6.81" height="21.30" fill="#9fe731" stroke="#000" stroke-opacity="0.42" stroke-width="0.7"/>
<rect x="552.43" y="197.87" width="6.81" height="40.20" fill="#9fe731" stroke="#000" stroke-opacity="0.42" stroke-width="0.7"/>
<rect x="559.24" y="188.17" width="6.81" height="49.90" fill="#9fe731" stroke="#000" stroke-opacity="0.42" stroke-width="0.7"/>
<rect x="566.05" y="208.87" width="6.81" height="29.20" fill="#9fe731" stroke="#000" stroke-opacity="0.42" stroke-width="0.7"/>
<rect x="572.86" y="214.87" width="6.81" height="23.20" fill="#9fe731" stroke="#000" stroke-opacity="0.42" stroke-width="0.7"/>
<rect x="579.67" y="226.97" width="6.81" height="11.10" fill="#9fe731" stroke="#000" stroke-opacity="0.42" stroke-width="0.7"/>
<rect x="586.48" y="236.67" width="6.81" height="1.40" fill="#9fe731" stroke="#000" stroke-opacity="0.42" stroke-width="0.7"/>
<rect x="593.29" y="236.67" width="6.81" height="1.40" fill="#9fe731" stroke="#000" stroke-opacity="0.42" stroke-width="0.7"/>
<polyline points="508.66,238.07 510.01,238.06 511.36,238.06 512.70,238.06 514.05,238.06 515.40,238.05 516.75,238.04 518.09,238.03 519.44,238.01 520.79,237.99 522.14,237.95 523.49,237.89 524.83,237.81 526.18,237.70 527.53,237.55 528.88,237.34 530.23,237.06 531.57,236.69 532.92,236.21 534.27,235.60 535.62,234.84 536.97,233.89 538.31,232.73 539.66,231.34 541.01,229.70 542.36,227.79 543.71,225.62 545.05,223.19 546.40,220.51 547.75,217.63 549.10,214.58 550.45,211.44 551.79,208.27 553.14,205.16 554.49,202.21 555.84,199.50 557.19,197.14 558.53,195.20 559.88,193.76 561.23,192.87 562.58,192.57 563.93,192.87 565.27,193.76 566.62,195.20 567.97,197.14 569.32,199.50 570.67,202.21 572.01,205.16 573.36,208.27 574.71,211.44 576.06,214.58 577.41,217.63 578.75,220.51 580.10,223.19 581.45,225.62 582.80,227.79 584.14,229.70 585.49,231.34 586.84,232.73 588.19,233.89 589.54,234.84 590.88,235.60 592.23,236.21 593.58,236.69 594.93,237.06 596.28,237.34 597.62,237.55 598.97,237.70 600.32,237.81 601.67,237.89 603.02,237.95 604.36,237.99 605.71,238.01 607.06,238.03 608.41,238.04 609.76,238.05 611.10,238.06 612.45,238.06 613.80,238.06 615.15,238.06 616.50,238.07" fill="none" stroke="#222" stroke-width="0.9"/>
<rect x="564.10" y="295.88" width="6.81" height="1.20" fill="#ff82c8" stroke="#000" stroke-opacity="0.42" stroke-width="0.7"/>
<rect x="570.91" y="290.98" width="6.81" height="6.10" fill="#ff82c8" stroke="#000" stroke-opacity="0.42" stroke-width="0.7"/>
<rect x="577.72" y="273.08" width="6.81" height="24.00" fill="#ff82c8" stroke="#000" stroke-opacity="0.42" stroke-width="0.7"/>
<rect x="584.53" y="266.38" width="6.81" height="30.70" fill="#ff82c8" stroke="#000" stroke-opacity="0.42" stroke-width="0.7"/>
<rect x="591.34" y="250.68" width="6.81" height="46.40" fill="#ff82c8" stroke="#000" stroke-opacity="0.42" stroke-width="0.7"/>
<rect x="598.15" y="257.38" width="6.81" height="39.70" fill="#ff82c8" stroke="#000" stroke-opacity="0.42" stroke-width="0.7"/>
<rect x="604.96" y="272.18" width="6.81" height="24.90" fill="#ff82c8" stroke="#000" stroke-opacity="0.42" stroke-width="0.7"/>
<rect x="611.77" y="283.08" width="6.81" height="14.00" fill="#ff82c8" stroke="#000" stroke-opacity="0.42" stroke-width="0.7"/>
<rect x="618.58" y="295.68" width="6.81" height="1.40" fill="#ff82c8" stroke="#000" stroke-opacity="0.42" stroke-width="0.7"/>
<polyline points="544.20,297.08 545.51,297.08 546.81,297.08 548.12,297.08 549.43,297.07 550.74,297.07 552.05,297.06 553.36,297.05 554.67,297.03 555.98,297.00 557.29,296.96 558.59,296.90 559.90,296.82 561.21,296.71 562.52,296.55 563.83,296.33 565.14,296.04 566.45,295.67 567.76,295.17 569.07,294.55 570.37,293.76 571.68,292.78 572.99,291.58 574.30,290.15 575.61,288.46 576.92,286.50 578.23,284.26 579.54,281.76 580.85,279.00 582.15,276.03 583.46,272.90 584.77,269.66 586.08,266.40 587.39,263.20 588.70,260.15 590.01,257.37 591.32,254.93 592.63,252.94 593.93,251.45 595.24,250.54 596.55,250.23 597.86,250.54 599.17,251.45 600.48,252.94 601.79,254.93 603.10,257.37 604.41,260.15 605.71,263.20 607.02,266.40 608.33,269.66 609.64,272.90 610.95,276.03 612.26,279.00 613.57,281.76 614.88,284.26 616.19,286.50 617.49,288.46 618.80,290.15 620.11,291.58 621.42,292.78 622.73,293.76 624.04,294.55 625.35,295.17 626.66,295.67 627.97,296.04 629.27,296.33 630.58,296.55 631.89,296.71 633.20,296.82 634.51,296.90 635.82,296.96 637.13,297.00 638.44,297.03 639.75,297.05 641.05,297.06 642.36,297.07 643.67,297.07 644.98,297.08 646.29,297.08 647.60,297.08 648.91,297.08" fill="none" stroke="#222" stroke-width="0.9"/>
<rect x="599.95" y="355.30" width="6.81" height="0.80" fill="#c9c9c9" stroke="#000" stroke-opacity="0.42" stroke-width="0.7"/>
<rect x="606.76" y="341.60" width="6.81" height="14.50" fill="#c9c9c9" stroke="#000" stroke-opacity="0.42" stroke-width="0.7"/>
<rect x="613.57" y="335.70" width="6.81" height="20.40" fill="#c9c9c9" stroke="#000" stroke-opacity="0.42" stroke-width="0.7"/>
<rect x="620.38" y="320.00" width="6.81" height="36.10" fill="#c9c9c9" stroke="#000" stroke-opacity="0.42" stroke-width="0.7"/>
<rect x="627.19" y="302.10" width="6.81" height="54.00" fill="#c9c9c9" stroke="#000" stroke-opacity="0.42" stroke-width="0.7"/>
<rect x="634.00" y="317.00" width="6.81" height="39.10" fill="#c9c9c9" stroke="#000" stroke-opacity="0.42" stroke-width="0.7"/>
<rect x="640.81" y="339.70" width="6.81" height="16.40" fill="#c9c9c9" stroke="#000" stroke-opacity="0.42" stroke-width="0.7"/>
<rect x="647.62" y="345.40" width="6.81" height="10.70" fill="#c9c9c9" stroke="#000" stroke-opacity="0.42" stroke-width="0.7"/>
<rect x="654.43" y="355.60" width="6.81" height="0.50" fill="#c9c9c9" stroke="#000" stroke-opacity="0.42" stroke-width="0.7"/>
<polyline points="579.73,356.10 581.00,356.10 582.27,356.10 583.54,356.09 584.81,356.09 586.08,356.09 587.35,356.08 588.62,356.06 589.89,356.04 591.16,356.02 592.43,355.97 593.70,355.91 594.97,355.83 596.24,355.71 597.51,355.55 598.78,355.33 600.05,355.03 601.32,354.64 602.59,354.13 603.86,353.49 605.13,352.67 606.40,351.66 607.67,350.43 608.94,348.96 610.21,347.21 611.48,345.19 612.75,342.89 614.02,340.30 615.29,337.46 616.56,334.40 617.83,331.17 619.10,327.83 620.37,324.47 621.64,321.17 622.91,318.03 624.18,315.16 625.45,312.65 626.72,310.59 627.99,309.06 629.26,308.12 630.53,307.80 631.80,308.12 633.07,309.06 634.34,310.59 635.61,312.65 636.88,315.16 638.15,318.03 639.42,321.17 640.69,324.47 641.96,327.83 643.23,331.17 644.50,334.40 645.77,337.46 647.04,340.30 648.30,342.89 649.57,345.19 650.84,347.21 652.11,348.96 653.38,350.43 654.65,351.66 655.92,352.67 657.19,353.49 658.46,354.13 659.73,354.64 661.00,355.03 662.27,355.33 663.54,355.55 664.81,355.71 666.08,355.83 667.35,355.91" fill="none" stroke="#222" stroke-width="0.9"/>
<line x1="460.65" y1="61.02" x2="629.73" y2="354.90" stroke="#3a3af2" stroke-width="1.12" stroke-dasharray="6.2 4.8"/>
<line x1="460.65" y1="2.60" x2="460.65" y2="61.02" stroke="#ff0000" stroke-opacity="0.72" stroke-width="1.4"/>
<line x1="494.63" y1="61.62" x2="494.63" y2="120.03" stroke="#ff0000" stroke-opacity="0.72" stroke-width="1.4"/>
<line x1="528.60" y1="120.63" x2="528.60" y2="179.05" stroke="#ff0000" stroke-opacity="0.72" stroke-width="1.4"/>
<line x1="562.58" y1="179.65" x2="562.58" y2="238.07" stroke="#ff0000" stroke-opacity="0.72" stroke-width="1.4"/>
<line x1="596.55" y1="238.67" x2="596.55" y2="297.08" stroke="#ff0000" stroke-opacity="0.72" stroke-width="1.4"/>
<line x1="630.53" y1="297.68" x2="630.53" y2="356.10" stroke="#ff0000" stroke-opacity="0.72" stroke-width="1.4"/>
<line x1="395.50" y1="2.47" x2="668.50" y2="2.47" stroke="#505050" stroke-width="1.15"/>
<line x1="396.10" y1="2.47" x2="396.10" y2="356.70" stroke="#3c3c3c" stroke-width="1.2"/>
<line x1="667.90" y1="2.47" x2="667.90" y2="356.70" stroke="#3c3c3c" stroke-width="1.2"/>
<line x1="396.10" y1="61.02" x2="667.90" y2="61.02" stroke="#3c3c3c" stroke-width="1.25"/>
<path d="M396.10,61.02v3.6 M413.09,61.02v1.8 M430.07,61.02v3.6 M447.06,61.02v1.8 M464.05,61.02v3.6 M481.04,61.02v1.8 M498.03,61.02v3.6 M515.01,61.02v1.8 M532.00,61.02v3.6 M548.99,61.02v1.8 M565.97,61.02v3.6 M582.96,61.02v1.8 M599.95,61.02v3.6 M616.94,61.02v1.8 M633.93,61.02v3.6 M650.91,61.02v1.8 M667.90,61.02v3.6" stroke="#3c3c3c" stroke-width="1" fill="none"/>
<path d="M396.10,61.02h-4.2 M396.10,48.72h-2.2 M396.10,36.43h-4.2 M396.10,24.13h-2.2 M396.10,11.84h-4.2" stroke="#3c3c3c" stroke-width="1" fill="none"/>
<text transform="translate(389.60,59.42) scale(0.85,1) rotate(-18.5)" y="5.2" text-anchor="end" font-family="Liberation Serif, serif" font-size="15.6" fill="#111" stroke="#111" stroke-width="0.1">0</text>
<text transform="translate(389.60,34.83) scale(0.85,1) rotate(-18.5)" y="5.2" text-anchor="end" font-family="Liberation Serif, serif" font-size="15.6" fill="#111" stroke="#111" stroke-width="0.1">25</text>
<text transform="translate(389.60,10.24) scale(0.85,1) rotate(-18.5)" y="5.2" text-anchor="end" font-family="Liberation Serif, serif" font-size="15.6" fill="#111" stroke="#111" stroke-width="0.1">50</text>
<text transform="translate(369.40,31.51) rotate(-90)" text-anchor="middle" font-family="Liberation Serif, serif" font-size="14.9" fill="#111" stroke="#111" stroke-width="0.1">d=10cm</text>
<g transform="translate(527.50,25.60) scale(0.925,1)" font-family="Liberation Serif, serif" font-size="15.8" fill="#222" stroke="#222" stroke-width="0.12"><text font-style="italic" font-size="15.0" x="0.6">μ</text><text font-style="italic" font-size="10.6" x="8.22" y="4.4">f</text><text font-size="5.2" font-style="italic" x="12.97" y="4.5">0</text></g>
<text transform="translate(601.40,25.60) scale(0.925,1)" text-anchor="end" font-family="Liberation Serif, serif" font-size="15.8" fill="#222" stroke="#222" stroke-width="0.12">=83.158m</text>
<g transform="translate(528.70,47.10) scale(0.925,1)" font-family="Liberation Serif, serif" font-size="15.8" fill="#222" stroke="#222" stroke-width="0.12"><text font-style="italic" font-size="15.6" x="0">σ</text><text font-style="italic" font-size="10.6" x="6.92" y="4.4">f</text><text font-size="5.2" font-style="italic" x="11.68" y="4.5">0</text></g>
<text transform="translate(601.40,47.10) scale(0.925,1)" text-anchor="end" font-family="Liberation Serif, serif" font-size="15.8" fill="#222" stroke="#222" stroke-width="0.12">=0.0066m</text>
<line x1="396.10" y1="120.03" x2="667.90" y2="120.03" stroke="#3c3c3c" stroke-width="1.25"/>
<path d="M396.10,120.03v3.6 M413.09,120.03v1.8 M430.07,120.03v3.6 M447.06,120.03v1.8 M464.05,120.03v3.6 M481.04,120.03v1.8 M498.03,120.03v3.6 M515.01,120.03v1.8 M532.00,120.03v3.6 M548.99,120.03v1.8 M565.97,120.03v3.6 M582.96,120.03v1.8 M599.95,120.03v3.6 M616.94,120.03v1.8 M633.93,120.03v3.6 M650.91,120.03v1.8 M667.90,120.03v3.6" stroke="#3c3c3c" stroke-width="1" fill="none"/>
<path d="M396.10,120.03h-4.2 M396.10,107.74h-2.2 M396.10,95.44h-4.2 M396.10,83.15h-2.2 M396.10,70.85h-4.2" stroke="#3c3c3c" stroke-width="1" fill="none"/>
<text transform="translate(389.60,118.43) scale(0.85,1) rotate(-18.5)" y="5.2" text-anchor="end" font-family="Liberation Serif, serif" font-size="15.6" fill="#111" stroke="#111" stroke-width="0.1">0</text>
<text transform="translate(389.60,93.84) scale(0.85,1) rotate(-18.5)" y="5.2" text-anchor="end" font-family="Liberation Serif, serif" font-size="15.6" fill="#111" stroke="#111" stroke-width="0.1">25</text>
<text transform="translate(389.60,69.25) scale(0.85,1) rotate(-18.5)" y="5.2" text-anchor="end" font-family="Liberation Serif, serif" font-size="15.6" fill="#111" stroke="#111" stroke-width="0.1">50</text>
<text transform="translate(369.40,90.53) rotate(-90)" text-anchor="middle" font-family="Liberation Serif, serif" font-size="14.9" fill="#111" stroke="#111" stroke-width="0.1">d=8cm</text>
<g transform="translate(554.40,86.80) scale(0.925,1)" font-family="Liberation Serif, serif" font-size="15.8" fill="#222" stroke="#222" stroke-width="0.12"><text font-style="italic" font-size="15.0" x="0.6">μ</text><text font-style="italic" font-size="10.6" x="8.22" y="4.4">f</text><text font-size="5.2" font-style="italic" x="12.97" y="4.5">0</text></g>
<text transform="translate(628.80,86.80) scale(0.925,1)" text-anchor="end" font-family="Liberation Serif, serif" font-size="15.8" fill="#222" stroke="#222" stroke-width="0.12">=83.178m</text>
<g transform="translate(555.60,108.40) scale(0.925,1)" font-family="Liberation Serif, serif" font-size="15.8" fill="#222" stroke="#222" stroke-width="0.12"><text font-style="italic" font-size="15.6" x="0">σ</text><text font-style="italic" font-size="10.6" x="6.92" y="4.4">f</text><text font-size="5.2" font-style="italic" x="11.68" y="4.5">0</text></g>
<text transform="translate(628.80,108.40) scale(0.925,1)" text-anchor="end" font-family="Liberation Serif, serif" font-size="15.8" fill="#222" stroke="#222" stroke-width="0.12">=0.0067m</text>
<line x1="396.10" y1="179.05" x2="667.90" y2="179.05" stroke="#3c3c3c" stroke-width="1.25"/>
<path d="M396.10,179.05v3.6 M413.09,179.05v1.8 M430.07,179.05v3.6 M447.06,179.05v1.8 M464.05,179.05v3.6 M481.04,179.05v1.8 M498.03,179.05v3.6 M515.01,179.05v1.8 M532.00,179.05v3.6 M548.99,179.05v1.8 M565.97,179.05v3.6 M582.96,179.05v1.8 M599.95,179.05v3.6 M616.94,179.05v1.8 M633.93,179.05v3.6 M650.91,179.05v1.8 M667.90,179.05v3.6" stroke="#3c3c3c" stroke-width="1" fill="none"/>
<path d="M396.10,179.05h-4.2 M396.10,166.75h-2.2 M396.10,154.46h-4.2 M396.10,142.16h-2.2 M396.10,129.87h-4.2" stroke="#3c3c3c" stroke-width="1" fill="none"/>
<text transform="translate(389.60,177.45) scale(0.85,1) rotate(-18.5)" y="5.2" text-anchor="end" font-family="Liberation Serif, serif" font-size="15.6" fill="#111" stroke="#111" stroke-width="0.1">0</text>
<text transform="translate(389.60,152.86) scale(0.85,1) rotate(-18.5)" y="5.2" text-anchor="end" font-family="Liberation Serif, serif" font-size="15.6" fill="#111" stroke="#111" stroke-width="0.1">25</text>
<text transform="translate(389.60,128.27) scale(0.85,1) rotate(-18.5)" y="5.2" text-anchor="end" font-family="Liberation Serif, serif" font-size="15.6" fill="#111" stroke="#111" stroke-width="0.1">50</text>
<text transform="translate(369.40,149.54) rotate(-90)" text-anchor="middle" font-family="Liberation Serif, serif" font-size="14.9" fill="#111" stroke="#111" stroke-width="0.1">d=6cm</text>
<g transform="translate(575.00,147.60) scale(0.925,1)" font-family="Liberation Serif, serif" font-size="15.8" fill="#222" stroke="#222" stroke-width="0.12"><text font-style="italic" font-size="15.0" x="0.6">μ</text><text font-style="italic" font-size="10.6" x="8.22" y="4.4">f</text><text font-size="5.2" font-style="italic" x="12.97" y="4.5">0</text></g>
<text transform="translate(649.30,147.60) scale(0.925,1)" text-anchor="end" font-family="Liberation Serif, serif" font-size="15.8" fill="#222" stroke="#222" stroke-width="0.12">=83.198m</text>
<g transform="translate(576.20,168.80) scale(0.925,1)" font-family="Liberation Serif, serif" font-size="15.8" fill="#222" stroke="#222" stroke-width="0.12"><text font-style="italic" font-size="15.6" x="0">σ</text><text font-style="italic" font-size="10.6" x="6.92" y="4.4">f</text><text font-size="5.2" font-style="italic" x="11.68" y="4.5">0</text></g>
<text transform="translate(649.30,168.80) scale(0.925,1)" text-anchor="end" font-family="Liberation Serif, serif" font-size="15.8" fill="#222" stroke="#222" stroke-width="0.12">=0.0064m</text>
<line x1="396.10" y1="238.07" x2="667.90" y2="238.07" stroke="#3c3c3c" stroke-width="1.25"/>
<path d="M396.10,238.07v3.6 M413.09,238.07v1.8 M430.07,238.07v3.6 M447.06,238.07v1.8 M464.05,238.07v3.6 M481.04,238.07v1.8 M498.03,238.07v3.6 M515.01,238.07v1.8 M532.00,238.07v3.6 M548.99,238.07v1.8 M565.97,238.07v3.6 M582.96,238.07v1.8 M599.95,238.07v3.6 M616.94,238.07v1.8 M633.93,238.07v3.6 M650.91,238.07v1.8 M667.90,238.07v3.6" stroke="#3c3c3c" stroke-width="1" fill="none"/>
<path d="M396.10,238.07h-4.2 M396.10,225.77h-2.2 M396.10,213.48h-4.2 M396.10,201.18h-2.2 M396.10,188.89h-4.2" stroke="#3c3c3c" stroke-width="1" fill="none"/>
<text transform="translate(389.60,236.47) scale(0.85,1) rotate(-18.5)" y="5.2" text-anchor="end" font-family="Liberation Serif, serif" font-size="15.6" fill="#111" stroke="#111" stroke-width="0.1">0</text>
<text transform="translate(389.60,211.88) scale(0.85,1) rotate(-18.5)" y="5.2" text-anchor="end" font-family="Liberation Serif, serif" font-size="15.6" fill="#111" stroke="#111" stroke-width="0.1">25</text>
<text transform="translate(389.60,187.29) scale(0.85,1) rotate(-18.5)" y="5.2" text-anchor="end" font-family="Liberation Serif, serif" font-size="15.6" fill="#111" stroke="#111" stroke-width="0.1">50</text>
<text transform="translate(369.40,208.56) rotate(-90)" text-anchor="middle" font-family="Liberation Serif, serif" font-size="14.9" fill="#111" stroke="#111" stroke-width="0.1">d=4cm</text>
<g transform="translate(439.70,209.60) scale(0.925,1)" font-family="Liberation Serif, serif" font-size="15.8" fill="#222" stroke="#222" stroke-width="0.12"><text font-style="italic" font-size="15.0" x="0.6">μ</text><text font-style="italic" font-size="10.6" x="8.22" y="4.4">f</text><text font-size="5.2" font-style="italic" x="12.97" y="4.5">0</text></g>
<text transform="translate(513.60,209.60) scale(0.925,1)" text-anchor="end" font-family="Liberation Serif, serif" font-size="15.8" fill="#222" stroke="#222" stroke-width="0.12">=83.218m</text>
<g transform="translate(440.90,231.10) scale(0.925,1)" font-family="Liberation Serif, serif" font-size="15.8" fill="#222" stroke="#222" stroke-width="0.12"><text font-style="italic" font-size="15.6" x="0">σ</text><text font-style="italic" font-size="10.6" x="6.92" y="4.4">f</text><text font-size="5.2" font-style="italic" x="11.68" y="4.5">0</text></g>
<text transform="translate(513.60,231.10) scale(0.925,1)" text-anchor="end" font-family="Liberation Serif, serif" font-size="15.8" fill="#222" stroke="#222" stroke-width="0.12">=0.0069m</text>
<line x1="396.10" y1="297.08" x2="667.90" y2="297.08" stroke="#3c3c3c" stroke-width="1.25"/>
<path d="M396.10,297.08v3.6 M413.09,297.08v1.8 M430.07,297.08v3.6 M447.06,297.08v1.8 M464.05,297.08v3.6 M481.04,297.08v1.8 M498.03,297.08v3.6 M515.01,297.08v1.8 M532.00,297.08v3.6 M548.99,297.08v1.8 M565.97,297.08v3.6 M582.96,297.08v1.8 M599.95,297.08v3.6 M616.94,297.08v1.8 M633.93,297.08v3.6 M650.91,297.08v1.8 M667.90,297.08v3.6" stroke="#3c3c3c" stroke-width="1" fill="none"/>
<path d="M396.10,297.08h-4.2 M396.10,284.79h-2.2 M396.10,272.49h-4.2 M396.10,260.20h-2.2 M396.10,247.90h-4.2" stroke="#3c3c3c" stroke-width="1" fill="none"/>
<text transform="translate(389.60,295.48) scale(0.85,1) rotate(-18.5)" y="5.2" text-anchor="end" font-family="Liberation Serif, serif" font-size="15.6" fill="#111" stroke="#111" stroke-width="0.1">0</text>
<text transform="translate(389.60,270.89) scale(0.85,1) rotate(-18.5)" y="5.2" text-anchor="end" font-family="Liberation Serif, serif" font-size="15.6" fill="#111" stroke="#111" stroke-width="0.1">25</text>
<text transform="translate(389.60,246.30) scale(0.85,1) rotate(-18.5)" y="5.2" text-anchor="end" font-family="Liberation Serif, serif" font-size="15.6" fill="#111" stroke="#111" stroke-width="0.1">50</text>
<text transform="translate(369.40,267.58) rotate(-90)" text-anchor="middle" font-family="Liberation Serif, serif" font-size="14.9" fill="#111" stroke="#111" stroke-width="0.1">d=2cm</text>
<g transform="translate(455.60,265.70) scale(0.925,1)" font-family="Liberation Serif, serif" font-size="15.8" fill="#222" stroke="#222" stroke-width="0.12"><text font-style="italic" font-size="15.0" x="0.6">μ</text><text font-style="italic" font-size="10.6" x="8.22" y="4.4">f</text><text font-size="5.2" font-style="italic" x="12.97" y="4.5">0</text></g>
<text transform="translate(529.90,265.70) scale(0.925,1)" text-anchor="end" font-family="Liberation Serif, serif" font-size="15.8" fill="#222" stroke="#222" stroke-width="0.12">=83.238m</text>
<g transform="translate(456.80,287.20) scale(0.925,1)" font-family="Liberation Serif, serif" font-size="15.8" fill="#222" stroke="#222" stroke-width="0.12"><text font-style="italic" font-size="15.6" x="0">σ</text><text font-style="italic" font-size="10.6" x="6.92" y="4.4">f</text><text font-size="5.2" font-style="italic" x="11.68" y="4.5">0</text></g>
<text transform="translate(529.90,287.20) scale(0.925,1)" text-anchor="end" font-family="Liberation Serif, serif" font-size="15.8" fill="#222" stroke="#222" stroke-width="0.12">=0.0067m</text>
<line x1="396.10" y1="356.10" x2="667.90" y2="356.10" stroke="#3c3c3c" stroke-width="1.25"/>
<path d="M396.10,356.10v3.6 M413.09,356.10v1.8 M430.07,356.10v3.6 M447.06,356.10v1.8 M464.05,356.10v3.6 M481.04,356.10v1.8 M498.03,356.10v3.6 M515.01,356.10v1.8 M532.00,356.10v3.6 M548.99,356.10v1.8 M565.97,356.10v3.6 M582.96,356.10v1.8 M599.95,356.10v3.6 M616.94,356.10v1.8 M633.93,356.10v3.6 M650.91,356.10v1.8 M667.90,356.10v3.6" stroke="#3c3c3c" stroke-width="1" fill="none"/>
<path d="M396.10,356.10h-4.2 M396.10,343.80h-2.2 M396.10,331.51h-4.2 M396.10,319.21h-2.2 M396.10,306.92h-4.2" stroke="#3c3c3c" stroke-width="1" fill="none"/>
<text transform="translate(389.60,354.50) scale(0.85,1) rotate(-18.5)" y="5.2" text-anchor="end" font-family="Liberation Serif, serif" font-size="15.6" fill="#111" stroke="#111" stroke-width="0.1">0</text>
<text transform="translate(389.60,329.91) scale(0.85,1) rotate(-18.5)" y="5.2" text-anchor="end" font-family="Liberation Serif, serif" font-size="15.6" fill="#111" stroke="#111" stroke-width="0.1">25</text>
<text transform="translate(389.60,305.32) scale(0.85,1) rotate(-18.5)" y="5.2" text-anchor="end" font-family="Liberation Serif, serif" font-size="15.6" fill="#111" stroke="#111" stroke-width="0.1">50</text>
<text transform="translate(369.40,326.59) rotate(-90)" text-anchor="middle" font-family="Liberation Serif, serif" font-size="14.9" fill="#111" stroke="#111" stroke-width="0.1">d=0</text>
<g transform="translate(477.00,322.40) scale(0.925,1)" font-family="Liberation Serif, serif" font-size="15.8" fill="#222" stroke="#222" stroke-width="0.12"><text font-style="italic" font-size="15.0" x="0.6">μ</text><text font-style="italic" font-size="10.6" x="8.22" y="4.4">f</text><text font-size="5.2" font-style="italic" x="12.97" y="4.5">0</text></g>
<text transform="translate(550.50,322.40) scale(0.925,1)" text-anchor="end" font-family="Liberation Serif, serif" font-size="15.8" fill="#222" stroke="#222" stroke-width="0.12">=83.258m</text>
<g transform="translate(478.20,343.90) scale(0.925,1)" font-family="Liberation Serif, serif" font-size="15.8" fill="#222" stroke="#222" stroke-width="0.12"><text font-style="italic" font-size="15.6" x="0">σ</text><text font-style="italic" font-size="10.6" x="6.92" y="4.4">f</text><text font-size="5.2" font-style="italic" x="11.68" y="4.5">0</text></g>
<text transform="translate(550.50,343.90) scale(0.925,1)" text-anchor="end" font-family="Liberation Serif, serif" font-size="15.8" fill="#222" stroke="#222" stroke-width="0.12">=0.0065m</text>
<text transform="translate(394.90,366.50) scale(0.925,1) rotate(-15.5)" text-anchor="middle" y="5.2" font-family="Liberation Serif, serif" font-size="15.6" fill="#111" stroke="#111" stroke-width="0.1">83.12</text>
<text transform="translate(428.87,366.50) scale(0.925,1) rotate(-15.5)" text-anchor="middle" y="5.2" font-family="Liberation Serif, serif" font-size="15.6" fill="#111" stroke="#111" stroke-width="0.1">83.14</text>
<text transform="translate(462.85,366.50) scale(0.925,1) rotate(-15.5)" text-anchor="middle" y="5.2" font-family="Liberation Serif, serif" font-size="15.6" fill="#111" stroke="#111" stroke-width="0.1">83.16</text>
<text transform="translate(496.83,366.50) scale(0.925,1) rotate(-15.5)" text-anchor="middle" y="5.2" font-family="Liberation Serif, serif" font-size="15.6" fill="#111" stroke="#111" stroke-width="0.1">83.18</text>
<text transform="translate(530.80,366.50) scale(0.925,1) rotate(-15.5)" text-anchor="middle" y="5.2" font-family="Liberation Serif, serif" font-size="15.6" fill="#111" stroke="#111" stroke-width="0.1">83.20</text>
<text transform="translate(564.77,366.50) scale(0.925,1) rotate(-15.5)" text-anchor="middle" y="5.2" font-family="Liberation Serif, serif" font-size="15.6" fill="#111" stroke="#111" stroke-width="0.1">83.22</text>
<text transform="translate(598.75,366.50) scale(0.925,1) rotate(-15.5)" text-anchor="middle" y="5.2" font-family="Liberation Serif, serif" font-size="15.6" fill="#111" stroke="#111" stroke-width="0.1">83.24</text>
<text transform="translate(632.73,366.50) scale(0.925,1) rotate(-15.5)" text-anchor="middle" y="5.2" font-family="Liberation Serif, serif" font-size="15.6" fill="#111" stroke="#111" stroke-width="0.1">83.26</text>
<text transform="translate(666.70,366.50) scale(0.925,1) rotate(-15.5)" text-anchor="middle" y="5.2" font-family="Liberation Serif, serif" font-size="15.6" fill="#111" stroke="#111" stroke-width="0.1">83.28</text>
<text x="529.00" y="389.50" font-family="Liberation Serif, serif" font-size="16.2" font-style="italic" fill="#222">f<tspan font-size="11" dy="1.6">0</tspan><tspan dy="-1.6" font-size="15.8"> /m</tspan></text>
<text x="648.30" y="17.80" font-family="Liberation Serif, serif" font-size="15.2" fill="#1a1a1a">(b)</text>
<g transform="translate(420.90,161.60) scale(0.84,1)" font-family="Liberation Serif, serif" font-size="14.6" fill="#3030ff" stroke="#3030ff" stroke-width="0.1"><text x="0" y="0" font-style="italic" font-size="14">μ</text><text x="9.76" y="3.9" font-style="italic" font-size="9.4">f</text><text x="14.29" y="5.0" font-style="italic" font-size="5.8">0</text><text x="21.31" y="0">=</text><text x="33.10" y="0">83.258</text><text x="75.24" y="0">−</text><text x="86.79" y="0" font-style="italic">d</text></g>
<line x1="483.70" y1="153.50" x2="498.39" y2="137.44" stroke="#4545ff" stroke-width="0.55"/>
<polygon points="501.90,133.60 499.79,138.72 496.99,136.15" fill="#2020ff"/>
<rect x="226.80" y="468.82" width="7.56" height="1.20" fill="#00ffff" stroke="#000" stroke-opacity="0.42" stroke-width="0.7"/>
<rect x="234.36" y="460.82" width="7.56" height="9.20" fill="#00ffff" stroke="#000" stroke-opacity="0.42" stroke-width="0.7"/>
<rect x="241.92" y="449.12" width="7.56" height="20.90" fill="#00ffff" stroke="#000" stroke-opacity="0.42" stroke-width="0.7"/>
<rect x="249.48" y="433.22" width="7.56" height="36.80" fill="#00ffff" stroke="#000" stroke-opacity="0.42" stroke-width="0.7"/>
<rect x="257.04" y="423.32" width="7.56" height="46.70" fill="#00ffff" stroke="#000" stroke-opacity="0.42" stroke-width="0.7"/>
<rect x="264.60" y="428.42" width="7.56" height="41.60" fill="#00ffff" stroke="#000" stroke-opacity="0.42" stroke-width="0.7"/>
<rect x="272.16" y="450.02" width="7.56" height="20.00" fill="#00ffff" stroke="#000" stroke-opacity="0.42" stroke-width="0.7"/>
<rect x="279.72" y="461.72" width="7.56" height="8.30" fill="#00ffff" stroke="#000" stroke-opacity="0.42" stroke-width="0.7"/>
<rect x="287.28" y="467.12" width="7.56" height="2.90" fill="#00ffff" stroke="#000" stroke-opacity="0.42" stroke-width="0.7"/>
<rect x="294.84" y="468.52" width="7.56" height="1.50" fill="#00ffff" stroke="#000" stroke-opacity="0.42" stroke-width="0.7"/>
<polyline points="220.20,469.76 221.68,469.64 223.15,469.49 224.63,469.28 226.10,468.99 227.58,468.62 229.05,468.14 230.53,467.52 232.00,466.74 233.48,465.77 234.95,464.60 236.43,463.19 237.90,461.52 239.38,459.59 240.85,457.39 242.33,454.92 243.80,452.20 245.28,449.28 246.75,446.19 248.23,443.00 249.70,439.78 251.18,436.63 252.66,433.63 254.13,430.89 255.61,428.49 257.08,426.52 258.56,425.06 260.03,424.16 261.51,423.85 262.98,424.16 264.46,425.06 265.93,426.52 267.41,428.49 268.88,430.89 270.36,433.63 271.83,436.63 273.31,439.78 274.78,443.00 276.26,446.19 277.73,449.28 279.21,452.20 280.68,454.92 282.16,457.39 283.63,459.59 285.11,461.52 286.59,463.19 288.06,464.60 289.54,465.77 291.01,466.74 292.49,467.52 293.96,468.14 295.44,468.62 296.91,468.99 298.39,469.28 299.86,469.49 301.34,469.64 302.81,469.76 304.29,469.84 305.76,469.90 307.24,469.94 308.71,469.96 310.19,469.98 311.66,469.99 313.14,470.00 314.61,470.01 316.09,470.01 317.56,470.01 319.04,470.01 320.52,470.02" fill="none" stroke="#222" stroke-width="0.9"/>
<rect x="264.52" y="528.33" width="7.56" height="0.70" fill="#fcc999" stroke="#000" stroke-opacity="0.42" stroke-width="0.7"/>
<rect x="272.08" y="523.63" width="7.56" height="5.40" fill="#fcc999" stroke="#000" stroke-opacity="0.42" stroke-width="0.7"/>
<rect x="279.64" y="514.83" width="7.56" height="14.20" fill="#fcc999" stroke="#000" stroke-opacity="0.42" stroke-width="0.7"/>
<rect x="287.20" y="488.63" width="7.56" height="40.40" fill="#fcc999" stroke="#000" stroke-opacity="0.42" stroke-width="0.7"/>
<rect x="294.76" y="477.63" width="7.56" height="51.40" fill="#fcc999" stroke="#000" stroke-opacity="0.42" stroke-width="0.7"/>
<rect x="302.32" y="489.33" width="7.56" height="39.70" fill="#fcc999" stroke="#000" stroke-opacity="0.42" stroke-width="0.7"/>
<rect x="309.88" y="502.03" width="7.56" height="27.00" fill="#fcc999" stroke="#000" stroke-opacity="0.42" stroke-width="0.7"/>
<rect x="317.44" y="518.13" width="7.56" height="10.90" fill="#fcc999" stroke="#000" stroke-opacity="0.42" stroke-width="0.7"/>
<rect x="325.00" y="528.53" width="7.56" height="0.50" fill="#fcc999" stroke="#000" stroke-opacity="0.42" stroke-width="0.7"/>
<polyline points="247.29,529.03 248.63,529.03 249.96,529.03 251.30,529.03 252.64,529.02 253.97,529.02 255.31,529.01 256.64,529.00 257.98,528.97 259.32,528.94 260.65,528.90 261.99,528.84 263.33,528.75 264.66,528.62 266.00,528.45 267.34,528.22 268.67,527.90 270.01,527.49 271.34,526.96 272.68,526.27 274.02,525.41 275.35,524.35 276.69,523.05 278.03,521.49 279.36,519.66 280.70,517.52 282.04,515.09 283.37,512.36 284.71,509.37 286.04,506.14 287.38,502.73 288.72,499.20 290.05,495.66 291.39,492.18 292.73,488.87 294.06,485.84 295.40,483.19 296.74,481.02 298.07,479.40 299.41,478.41 300.75,478.07 302.08,478.41 303.42,479.40 304.75,481.02 306.09,483.19 307.43,485.84 308.76,488.87 310.10,492.18 311.44,495.66 312.77,499.20 314.11,502.73 315.45,506.14 316.78,509.37 318.12,512.36 319.45,515.09 320.79,517.52 322.13,519.66 323.46,521.49 324.80,523.05 326.14,524.35 327.47,525.41 328.81,526.27 330.15,526.96 331.48,527.49 332.82,527.90 334.15,528.22 335.49,528.45 336.83,528.62 338.16,528.75 339.50,528.84 340.84,528.90 342.17,528.94 343.51,528.97 344.85,529.00 346.18,529.01 347.52,529.02 348.85,529.02 350.19,529.03 351.53,529.03 352.86,529.03 354.20,529.03" fill="none" stroke="#222" stroke-width="0.9"/>
<rect x="309.80" y="582.95" width="7.56" height="5.10" fill="#0868ac" stroke="#000" stroke-opacity="0.42" stroke-width="0.7"/>
<rect x="317.36" y="569.85" width="7.56" height="18.20" fill="#0868ac" stroke="#000" stroke-opacity="0.42" stroke-width="0.7"/>
<rect x="324.92" y="553.35" width="7.56" height="34.70" fill="#0868ac" stroke="#000" stroke-opacity="0.42" stroke-width="0.7"/>
<rect x="332.48" y="550.85" width="7.56" height="37.20" fill="#0868ac" stroke="#000" stroke-opacity="0.42" stroke-width="0.7"/>
<rect x="340.04" y="541.35" width="7.56" height="46.70" fill="#0868ac" stroke="#000" stroke-opacity="0.42" stroke-width="0.7"/>
<rect x="347.60" y="557.15" width="7.56" height="30.90" fill="#0868ac" stroke="#000" stroke-opacity="0.42" stroke-width="0.7"/>
<rect x="355.16" y="577.15" width="7.56" height="10.90" fill="#0868ac" stroke="#000" stroke-opacity="0.42" stroke-width="0.7"/>
<rect x="362.72" y="583.95" width="7.56" height="4.10" fill="#0868ac" stroke="#000" stroke-opacity="0.42" stroke-width="0.7"/>
<rect x="370.28" y="586.55" width="7.56" height="1.50" fill="#0868ac" stroke="#000" stroke-opacity="0.42" stroke-width="0.7"/>
<polyline points="281.67,588.05 283.13,588.05 284.58,588.05 286.04,588.04 287.50,588.04 288.96,588.04 290.42,588.03 291.87,588.02 293.33,588.00 294.79,587.97 296.25,587.93 297.71,587.87 299.16,587.79 300.62,587.67 302.08,587.52 303.54,587.30 304.99,587.01 306.45,586.64 307.91,586.15 309.37,585.52 310.83,584.73 312.28,583.76 313.74,582.57 315.20,581.14 316.66,579.45 318.12,577.50 319.57,575.27 321.03,572.77 322.49,570.02 323.95,567.06 325.40,563.94 326.86,560.71 328.32,557.45 329.78,554.26 331.24,551.23 332.69,548.45 334.15,546.03 335.61,544.03 337.07,542.55 338.53,541.64 339.98,541.34 341.44,541.64 342.90,542.55 344.36,544.03 345.81,546.03 347.27,548.45 348.73,551.23 350.19,554.26 351.65,557.45 353.10,560.71 354.56,563.94 356.02,567.06 357.48,570.02 358.94,572.77 360.39,575.27 361.85,577.50 363.31,579.45 364.77,581.14 366.22,582.57 367.68,583.76 369.14,584.73 370.60,585.52 372.06,586.15 373.51,586.64 374.97,587.01 376.43,587.30 377.89,587.52 379.35,587.67 380.80,587.79 382.26,587.87 383.72,587.93 385.18,587.97 386.63,588.00 388.09,588.02 389.55,588.03 391.01,588.04 392.47,588.04 393.92,588.04 395.38,588.05 396.84,588.05 398.30,588.05" fill="none" stroke="#222" stroke-width="0.9"/>
<rect x="347.53" y="642.97" width="7.56" height="4.10" fill="#9fe731" stroke="#000" stroke-opacity="0.42" stroke-width="0.7"/>
<rect x="355.09" y="634.97" width="7.56" height="12.10" fill="#9fe731" stroke="#000" stroke-opacity="0.42" stroke-width="0.7"/>
<rect x="362.65" y="618.17" width="7.56" height="28.90" fill="#9fe731" stroke="#000" stroke-opacity="0.42" stroke-width="0.7"/>
<rect x="370.21" y="605.87" width="7.56" height="41.20" fill="#9fe731" stroke="#000" stroke-opacity="0.42" stroke-width="0.7"/>
<rect x="377.77" y="596.37" width="7.56" height="50.70" fill="#9fe731" stroke="#000" stroke-opacity="0.42" stroke-width="0.7"/>
<rect x="385.33" y="611.27" width="7.56" height="35.80" fill="#9fe731" stroke="#000" stroke-opacity="0.42" stroke-width="0.7"/>
<rect x="392.89" y="634.97" width="7.56" height="12.10" fill="#9fe731" stroke="#000" stroke-opacity="0.42" stroke-width="0.7"/>
<rect x="400.45" y="644.87" width="7.56" height="2.20" fill="#9fe731" stroke="#000" stroke-opacity="0.42" stroke-width="0.7"/>
<rect x="408.01" y="644.17" width="7.56" height="2.90" fill="#9fe731" stroke="#000" stroke-opacity="0.42" stroke-width="0.7"/>
<polyline points="323.68,647.07 325.07,647.06 326.46,647.06 327.85,647.06 329.24,647.06 330.63,647.05 332.01,647.04 333.40,647.03 334.79,647.01 336.18,646.98 337.57,646.94 338.96,646.88 340.35,646.79 341.73,646.67 343.12,646.51 344.51,646.28 345.90,645.98 347.29,645.58 348.68,645.07 350.06,644.41 351.45,643.58 352.84,642.56 354.23,641.31 355.62,639.81 357.01,638.04 358.40,635.99 359.78,633.65 361.17,631.02 362.56,628.14 363.95,625.03 365.34,621.75 366.73,618.36 368.11,614.94 369.50,611.59 370.89,608.41 372.28,605.49 373.67,602.94 375.06,600.85 376.44,599.30 377.83,598.34 379.22,598.02 380.61,598.34 382.00,599.30 383.39,600.85 384.78,602.94 386.16,605.49 387.55,608.41 388.94,611.59 390.33,614.94 391.72,618.36 393.11,621.75 394.49,625.03 395.88,628.14 397.27,631.02 398.66,633.65 400.05,635.99 401.44,638.04 402.83,639.81 404.21,641.31 405.60,642.56 406.99,643.58 408.38,644.41 409.77,645.07 411.16,645.58 412.54,645.98 413.93,646.28 415.32,646.51 416.71,646.67 418.10,646.79 419.49,646.88 420.87,646.94 422.26,646.98 423.65,647.01 425.04,647.03 426.43,647.04 427.82,647.05 429.21,647.06 430.59,647.06 431.98,647.06 433.37,647.06 434.76,647.07" fill="none" stroke="#222" stroke-width="0.9"/>
<rect x="385.26" y="703.88" width="7.56" height="2.20" fill="#ff82c8" stroke="#000" stroke-opacity="0.42" stroke-width="0.7"/>
<rect x="392.82" y="695.88" width="7.56" height="10.20" fill="#ff82c8" stroke="#000" stroke-opacity="0.42" stroke-width="0.7"/>
<rect x="400.38" y="681.98" width="7.56" height="24.10" fill="#ff82c8" stroke="#000" stroke-opacity="0.42" stroke-width="0.7"/>
<rect x="407.94" y="661.58" width="7.56" height="44.50" fill="#ff82c8" stroke="#000" stroke-opacity="0.42" stroke-width="0.7"/>
<rect x="415.50" y="666.38" width="7.56" height="39.70" fill="#ff82c8" stroke="#000" stroke-opacity="0.42" stroke-width="0.7"/>
<rect x="423.06" y="667.38" width="7.56" height="38.70" fill="#ff82c8" stroke="#000" stroke-opacity="0.42" stroke-width="0.7"/>
<rect x="430.62" y="683.18" width="7.56" height="22.90" fill="#ff82c8" stroke="#000" stroke-opacity="0.42" stroke-width="0.7"/>
<rect x="438.18" y="699.98" width="7.56" height="6.10" fill="#ff82c8" stroke="#000" stroke-opacity="0.42" stroke-width="0.7"/>
<polyline points="360.15,706.08 361.60,706.08 363.06,706.08 364.52,706.08 365.98,706.07 367.44,706.07 368.89,706.06 370.35,706.05 371.81,706.03 373.27,706.00 374.72,705.96 376.18,705.90 377.64,705.82 379.10,705.71 380.56,705.55 382.01,705.33 383.47,705.05 384.93,704.67 386.39,704.18 387.85,703.55 389.30,702.77 390.76,701.79 392.22,700.60 393.68,699.17 395.13,697.49 396.59,695.53 398.05,693.30 399.51,690.80 400.97,688.06 402.42,685.10 403.88,681.97 405.34,678.74 406.80,675.49 408.26,672.30 409.71,669.26 411.17,666.49 412.63,664.06 414.09,662.07 415.54,660.59 417.00,659.68 418.46,659.37 419.92,659.68 421.38,660.59 422.83,662.07 424.29,664.06 425.75,666.49 427.21,669.26 428.66,672.30 430.12,675.49 431.58,678.74 433.04,681.97 434.50,685.10 435.95,688.06 437.41,690.80 438.87,693.30 440.33,695.53 441.79,697.49 443.24,699.17 444.70,700.60 446.16,701.79 447.62,702.77 449.07,703.55 450.53,704.18 451.99,704.67 453.45,705.05 454.91,705.33 456.36,705.55 457.82,705.71 459.28,705.82 460.74,705.90 462.20,705.96 463.65,706.00 465.11,706.03 466.57,706.05 468.03,706.06 469.48,706.07 470.94,706.07 472.40,706.08 473.86,706.08 475.32,706.08 476.77,706.08" fill="none" stroke="#222" stroke-width="0.9"/>
<rect x="435.80" y="755.80" width="5.57" height="9.30" fill="#c9c9c9" stroke="#000" stroke-opacity="0.42" stroke-width="0.7"/>
<rect x="441.37" y="745.80" width="5.57" height="19.30" fill="#c9c9c9" stroke="#000" stroke-opacity="0.42" stroke-width="0.7"/>
<rect x="446.94" y="735.90" width="5.57" height="29.20" fill="#c9c9c9" stroke="#000" stroke-opacity="0.42" stroke-width="0.7"/>
<rect x="452.51" y="718.80" width="5.57" height="46.30" fill="#c9c9c9" stroke="#000" stroke-opacity="0.42" stroke-width="0.7"/>
<rect x="458.08" y="723.90" width="5.57" height="41.20" fill="#c9c9c9" stroke="#000" stroke-opacity="0.42" stroke-width="0.7"/>
<rect x="463.65" y="740.00" width="5.57" height="25.10" fill="#c9c9c9" stroke="#000" stroke-opacity="0.42" stroke-width="0.7"/>
<rect x="469.22" y="750.50" width="5.57" height="14.60" fill="#c9c9c9" stroke="#000" stroke-opacity="0.42" stroke-width="0.7"/>
<rect x="474.79" y="758.70" width="5.57" height="6.40" fill="#c9c9c9" stroke="#000" stroke-opacity="0.42" stroke-width="0.7"/>
<polyline points="412.57,765.10 413.70,765.10 414.83,765.10 415.96,765.09 417.09,765.09 418.21,765.09 419.34,765.08 420.47,765.07 421.60,765.05 422.73,765.02 423.86,764.99 424.98,764.93 426.11,764.86 427.24,764.75 428.37,764.60 429.50,764.40 430.62,764.13 431.75,763.78 432.88,763.32 434.01,762.73 435.14,762.00 436.26,761.08 437.39,759.97 438.52,758.63 439.65,757.06 440.78,755.23 441.90,753.14 443.03,750.80 444.16,748.23 445.29,745.46 446.42,742.54 447.55,739.52 448.67,736.47 449.80,733.49 450.93,730.65 452.06,728.05 453.19,725.78 454.31,723.92 455.44,722.53 456.57,721.68 457.70,721.39 458.83,721.68 459.95,722.53 461.08,723.92 462.21,725.78 463.34,728.05 464.47,730.65 465.60,733.49 466.72,736.47 467.85,739.52 468.98,742.54 470.11,745.46 471.24,748.23 472.36,750.80 473.49,753.14 474.62,755.23 475.75,757.06 476.88,758.63 478.00,759.97 479.13,761.08 480.26,762.00 481.39,762.73 482.52,763.32 483.64,763.78 484.77,764.13 485.90,764.40 487.03,764.60 488.16,764.75 489.29,764.86 490.41,764.93" fill="none" stroke="#222" stroke-width="0.9"/>
<line x1="261.51" y1="470.02" x2="455.10" y2="761.10" stroke="#3a3af2" stroke-width="1.12" stroke-dasharray="6.2 4.8"/>
<line x1="261.51" y1="411.60" x2="261.51" y2="470.02" stroke="#ff0000" stroke-opacity="0.72" stroke-width="1.4"/>
<line x1="300.75" y1="470.62" x2="300.75" y2="529.03" stroke="#ff0000" stroke-opacity="0.72" stroke-width="1.4"/>
<line x1="339.98" y1="529.63" x2="339.98" y2="588.05" stroke="#ff0000" stroke-opacity="0.72" stroke-width="1.4"/>
<line x1="379.22" y1="588.65" x2="379.22" y2="647.07" stroke="#ff0000" stroke-opacity="0.72" stroke-width="1.4"/>
<line x1="418.46" y1="647.67" x2="418.46" y2="706.08" stroke="#ff0000" stroke-opacity="0.72" stroke-width="1.4"/>
<line x1="457.70" y1="706.68" x2="457.70" y2="765.10" stroke="#ff0000" stroke-opacity="0.72" stroke-width="1.4"/>
<line x1="218.65" y1="411.47" x2="491.50" y2="411.47" stroke="#505050" stroke-width="1.15"/>
<line x1="219.25" y1="411.47" x2="219.25" y2="765.70" stroke="#3c3c3c" stroke-width="1.2"/>
<line x1="490.90" y1="411.47" x2="490.90" y2="765.70" stroke="#3c3c3c" stroke-width="1.2"/>
<line x1="219.25" y1="470.02" x2="490.90" y2="470.02" stroke="#3c3c3c" stroke-width="1.25"/>
<path d="M219.25,470.02v3.6 M241.89,470.02v1.8 M264.52,470.02v3.6 M287.16,470.02v1.8 M309.80,470.02v3.6 M332.44,470.02v1.8 M355.07,470.02v3.6 M377.71,470.02v1.8 M400.35,470.02v3.6 M422.99,470.02v1.8 M445.62,470.02v3.6 M468.26,470.02v1.8 M490.90,470.02v3.6" stroke="#3c3c3c" stroke-width="1" fill="none"/>
<path d="M219.25,470.02h-4.2 M219.25,457.72h-2.2 M219.25,445.43h-4.2 M219.25,433.13h-2.2 M219.25,420.84h-4.2" stroke="#3c3c3c" stroke-width="1" fill="none"/>
<text transform="translate(212.75,468.42) scale(0.85,1) rotate(-18.5)" y="5.2" text-anchor="end" font-family="Liberation Serif, serif" font-size="15.6" fill="#111" stroke="#111" stroke-width="0.1">0</text>
<text transform="translate(212.75,443.83) scale(0.85,1) rotate(-18.5)" y="5.2" text-anchor="end" font-family="Liberation Serif, serif" font-size="15.6" fill="#111" stroke="#111" stroke-width="0.1">25</text>
<text transform="translate(212.75,419.24) scale(0.85,1) rotate(-18.5)" y="5.2" text-anchor="end" font-family="Liberation Serif, serif" font-size="15.6" fill="#111" stroke="#111" stroke-width="0.1">50</text>
<text transform="translate(192.55,440.51) rotate(-90)" text-anchor="middle" font-family="Liberation Serif, serif" font-size="14.9" fill="#111" stroke="#111" stroke-width="0.1">d=10mm</text>
<g transform="translate(349.30,434.60) scale(0.925,1)" font-family="Liberation Serif, serif" font-size="15.8" fill="#222" stroke="#222" stroke-width="0.12"><text font-style="italic" font-size="15.0" x="0.6">μ</text><text font-style="italic" font-size="10.6" x="8.22" y="4.4">f</text><text font-size="5.2" font-style="italic" x="12.97" y="4.5">0</text></g>
<text transform="translate(423.20,434.60) scale(0.925,1)" text-anchor="end" font-family="Liberation Serif, serif" font-size="15.8" fill="#222" stroke="#222" stroke-width="0.12">=83.128m</text>
<g transform="translate(350.50,456.10) scale(0.925,1)" font-family="Liberation Serif, serif" font-size="15.8" fill="#222" stroke="#222" stroke-width="0.12"><text font-style="italic" font-size="15.6" x="0">σ</text><text font-style="italic" font-size="10.6" x="6.92" y="4.4">f</text><text font-size="5.2" font-style="italic" x="11.68" y="4.5">0</text></g>
<text transform="translate(423.20,456.10) scale(0.925,1)" text-anchor="end" font-family="Liberation Serif, serif" font-size="15.8" fill="#222" stroke="#222" stroke-width="0.12">=0.0085m</text>
<line x1="219.25" y1="529.03" x2="490.90" y2="529.03" stroke="#3c3c3c" stroke-width="1.25"/>
<path d="M219.25,529.03v3.6 M241.89,529.03v1.8 M264.52,529.03v3.6 M287.16,529.03v1.8 M309.80,529.03v3.6 M332.44,529.03v1.8 M355.07,529.03v3.6 M377.71,529.03v1.8 M400.35,529.03v3.6 M422.99,529.03v1.8 M445.62,529.03v3.6 M468.26,529.03v1.8 M490.90,529.03v3.6" stroke="#3c3c3c" stroke-width="1" fill="none"/>
<path d="M219.25,529.03h-4.2 M219.25,516.74h-2.2 M219.25,504.44h-4.2 M219.25,492.15h-2.2 M219.25,479.85h-4.2" stroke="#3c3c3c" stroke-width="1" fill="none"/>
<text transform="translate(212.75,527.43) scale(0.85,1) rotate(-18.5)" y="5.2" text-anchor="end" font-family="Liberation Serif, serif" font-size="15.6" fill="#111" stroke="#111" stroke-width="0.1">0</text>
<text transform="translate(212.75,502.84) scale(0.85,1) rotate(-18.5)" y="5.2" text-anchor="end" font-family="Liberation Serif, serif" font-size="15.6" fill="#111" stroke="#111" stroke-width="0.1">25</text>
<text transform="translate(212.75,478.25) scale(0.85,1) rotate(-18.5)" y="5.2" text-anchor="end" font-family="Liberation Serif, serif" font-size="15.6" fill="#111" stroke="#111" stroke-width="0.1">50</text>
<text transform="translate(192.55,499.52) rotate(-90)" text-anchor="middle" font-family="Liberation Serif, serif" font-size="14.9" fill="#111" stroke="#111" stroke-width="0.1">d=8mm</text>
<g transform="translate(377.40,496.10) scale(0.925,1)" font-family="Liberation Serif, serif" font-size="15.8" fill="#222" stroke="#222" stroke-width="0.12"><text font-style="italic" font-size="15.0" x="0.6">μ</text><text font-style="italic" font-size="10.6" x="8.22" y="4.4">f</text><text font-size="5.2" font-style="italic" x="12.97" y="4.5">0</text></g>
<text transform="translate(452.00,496.10) scale(0.925,1)" text-anchor="end" font-family="Liberation Serif, serif" font-size="15.8" fill="#222" stroke="#222" stroke-width="0.12">=83.154m</text>
<g transform="translate(378.60,517.50) scale(0.925,1)" font-family="Liberation Serif, serif" font-size="15.8" fill="#222" stroke="#222" stroke-width="0.12"><text font-style="italic" font-size="15.6" x="0">σ</text><text font-style="italic" font-size="10.6" x="6.92" y="4.4">f</text><text font-size="5.2" font-style="italic" x="11.68" y="4.5">0</text></g>
<text transform="translate(452.00,517.50) scale(0.925,1)" text-anchor="end" font-family="Liberation Serif, serif" font-size="15.8" fill="#222" stroke="#222" stroke-width="0.12">=0.0077m</text>
<line x1="219.25" y1="588.05" x2="490.90" y2="588.05" stroke="#3c3c3c" stroke-width="1.25"/>
<path d="M219.25,588.05v3.6 M241.89,588.05v1.8 M264.52,588.05v3.6 M287.16,588.05v1.8 M309.80,588.05v3.6 M332.44,588.05v1.8 M355.07,588.05v3.6 M377.71,588.05v1.8 M400.35,588.05v3.6 M422.99,588.05v1.8 M445.62,588.05v3.6 M468.26,588.05v1.8 M490.90,588.05v3.6" stroke="#3c3c3c" stroke-width="1" fill="none"/>
<path d="M219.25,588.05h-4.2 M219.25,575.75h-2.2 M219.25,563.46h-4.2 M219.25,551.16h-2.2 M219.25,538.87h-4.2" stroke="#3c3c3c" stroke-width="1" fill="none"/>
<text transform="translate(212.75,586.45) scale(0.85,1) rotate(-18.5)" y="5.2" text-anchor="end" font-family="Liberation Serif, serif" font-size="15.6" fill="#111" stroke="#111" stroke-width="0.1">0</text>
<text transform="translate(212.75,561.86) scale(0.85,1) rotate(-18.5)" y="5.2" text-anchor="end" font-family="Liberation Serif, serif" font-size="15.6" fill="#111" stroke="#111" stroke-width="0.1">25</text>
<text transform="translate(212.75,537.27) scale(0.85,1) rotate(-18.5)" y="5.2" text-anchor="end" font-family="Liberation Serif, serif" font-size="15.6" fill="#111" stroke="#111" stroke-width="0.1">50</text>
<text transform="translate(192.55,558.54) rotate(-90)" text-anchor="middle" font-family="Liberation Serif, serif" font-size="14.9" fill="#111" stroke="#111" stroke-width="0.1">d=6mm</text>
<g transform="translate(398.00,556.60) scale(0.925,1)" font-family="Liberation Serif, serif" font-size="15.8" fill="#222" stroke="#222" stroke-width="0.12"><text font-style="italic" font-size="15.0" x="0.6">μ</text><text font-style="italic" font-size="10.6" x="8.22" y="4.4">f</text><text font-size="5.2" font-style="italic" x="12.97" y="4.5">0</text></g>
<text transform="translate(472.30,556.60) scale(0.925,1)" text-anchor="end" font-family="Liberation Serif, serif" font-size="15.8" fill="#222" stroke="#222" stroke-width="0.12">=83.180m</text>
<g transform="translate(399.20,577.80) scale(0.925,1)" font-family="Liberation Serif, serif" font-size="15.8" fill="#222" stroke="#222" stroke-width="0.12"><text font-style="italic" font-size="15.6" x="0">σ</text><text font-style="italic" font-size="10.6" x="6.92" y="4.4">f</text><text font-size="5.2" font-style="italic" x="11.68" y="4.5">0</text></g>
<text transform="translate(472.30,577.80) scale(0.925,1)" text-anchor="end" font-family="Liberation Serif, serif" font-size="15.8" fill="#222" stroke="#222" stroke-width="0.12">=0.0084m</text>
<line x1="219.25" y1="647.07" x2="490.90" y2="647.07" stroke="#3c3c3c" stroke-width="1.25"/>
<path d="M219.25,647.07v3.6 M241.89,647.07v1.8 M264.52,647.07v3.6 M287.16,647.07v1.8 M309.80,647.07v3.6 M332.44,647.07v1.8 M355.07,647.07v3.6 M377.71,647.07v1.8 M400.35,647.07v3.6 M422.99,647.07v1.8 M445.62,647.07v3.6 M468.26,647.07v1.8 M490.90,647.07v3.6" stroke="#3c3c3c" stroke-width="1" fill="none"/>
<path d="M219.25,647.07h-4.2 M219.25,634.77h-2.2 M219.25,622.48h-4.2 M219.25,610.18h-2.2 M219.25,597.89h-4.2" stroke="#3c3c3c" stroke-width="1" fill="none"/>
<text transform="translate(212.75,645.47) scale(0.85,1) rotate(-18.5)" y="5.2" text-anchor="end" font-family="Liberation Serif, serif" font-size="15.6" fill="#111" stroke="#111" stroke-width="0.1">0</text>
<text transform="translate(212.75,620.88) scale(0.85,1) rotate(-18.5)" y="5.2" text-anchor="end" font-family="Liberation Serif, serif" font-size="15.6" fill="#111" stroke="#111" stroke-width="0.1">25</text>
<text transform="translate(212.75,596.29) scale(0.85,1) rotate(-18.5)" y="5.2" text-anchor="end" font-family="Liberation Serif, serif" font-size="15.6" fill="#111" stroke="#111" stroke-width="0.1">50</text>
<text transform="translate(192.55,617.56) rotate(-90)" text-anchor="middle" font-family="Liberation Serif, serif" font-size="14.9" fill="#111" stroke="#111" stroke-width="0.1">d=4mm</text>
<g transform="translate(413.40,611.20) scale(0.925,1)" font-family="Liberation Serif, serif" font-size="15.8" fill="#222" stroke="#222" stroke-width="0.12"><text font-style="italic" font-size="15.0" x="0.6">μ</text><text font-style="italic" font-size="10.6" x="8.22" y="4.4">f</text><text font-size="5.2" font-style="italic" x="12.97" y="4.5">0</text></g>
<text transform="translate(487.70,611.20) scale(0.925,1)" text-anchor="end" font-family="Liberation Serif, serif" font-size="15.8" fill="#222" stroke="#222" stroke-width="0.12">=83.206m</text>
<g transform="translate(414.60,632.00) scale(0.925,1)" font-family="Liberation Serif, serif" font-size="15.8" fill="#222" stroke="#222" stroke-width="0.12"><text font-style="italic" font-size="15.6" x="0">σ</text><text font-style="italic" font-size="10.6" x="6.92" y="4.4">f</text><text font-size="5.2" font-style="italic" x="11.68" y="4.5">0</text></g>
<text transform="translate(487.70,632.00) scale(0.925,1)" text-anchor="end" font-family="Liberation Serif, serif" font-size="15.8" fill="#222" stroke="#222" stroke-width="0.12">=0.0080m</text>
<line x1="219.25" y1="706.08" x2="490.90" y2="706.08" stroke="#3c3c3c" stroke-width="1.25"/>
<path d="M219.25,706.08v3.6 M241.89,706.08v1.8 M264.52,706.08v3.6 M287.16,706.08v1.8 M309.80,706.08v3.6 M332.44,706.08v1.8 M355.07,706.08v3.6 M377.71,706.08v1.8 M400.35,706.08v3.6 M422.99,706.08v1.8 M445.62,706.08v3.6 M468.26,706.08v1.8 M490.90,706.08v3.6" stroke="#3c3c3c" stroke-width="1" fill="none"/>
<path d="M219.25,706.08h-4.2 M219.25,693.79h-2.2 M219.25,681.49h-4.2 M219.25,669.20h-2.2 M219.25,656.90h-4.2" stroke="#3c3c3c" stroke-width="1" fill="none"/>
<text transform="translate(212.75,704.48) scale(0.85,1) rotate(-18.5)" y="5.2" text-anchor="end" font-family="Liberation Serif, serif" font-size="15.6" fill="#111" stroke="#111" stroke-width="0.1">0</text>
<text transform="translate(212.75,679.89) scale(0.85,1) rotate(-18.5)" y="5.2" text-anchor="end" font-family="Liberation Serif, serif" font-size="15.6" fill="#111" stroke="#111" stroke-width="0.1">25</text>
<text transform="translate(212.75,655.30) scale(0.85,1) rotate(-18.5)" y="5.2" text-anchor="end" font-family="Liberation Serif, serif" font-size="15.6" fill="#111" stroke="#111" stroke-width="0.1">50</text>
<text transform="translate(192.55,676.58) rotate(-90)" text-anchor="middle" font-family="Liberation Serif, serif" font-size="14.9" fill="#111" stroke="#111" stroke-width="0.1">d=2mm</text>
<g transform="translate(260.90,671.90) scale(0.925,1)" font-family="Liberation Serif, serif" font-size="15.8" fill="#222" stroke="#222" stroke-width="0.12"><text font-style="italic" font-size="15.0" x="0.6">μ</text><text font-style="italic" font-size="10.6" x="8.22" y="4.4">f</text><text font-size="5.2" font-style="italic" x="12.97" y="4.5">0</text></g>
<text transform="translate(335.20,671.90) scale(0.925,1)" text-anchor="end" font-family="Liberation Serif, serif" font-size="15.8" fill="#222" stroke="#222" stroke-width="0.12">=83.232m</text>
<g transform="translate(262.10,693.20) scale(0.925,1)" font-family="Liberation Serif, serif" font-size="15.8" fill="#222" stroke="#222" stroke-width="0.12"><text font-style="italic" font-size="15.6" x="0">σ</text><text font-style="italic" font-size="10.6" x="6.92" y="4.4">f</text><text font-size="5.2" font-style="italic" x="11.68" y="4.5">0</text></g>
<text transform="translate(335.20,693.20) scale(0.925,1)" text-anchor="end" font-family="Liberation Serif, serif" font-size="15.8" fill="#222" stroke="#222" stroke-width="0.12">=0.0084m</text>
<line x1="219.25" y1="765.10" x2="490.90" y2="765.10" stroke="#3c3c3c" stroke-width="1.25"/>
<path d="M219.25,765.10v3.6 M241.89,765.10v1.8 M264.52,765.10v3.6 M287.16,765.10v1.8 M309.80,765.10v3.6 M332.44,765.10v1.8 M355.07,765.10v3.6 M377.71,765.10v1.8 M400.35,765.10v3.6 M422.99,765.10v1.8 M445.62,765.10v3.6 M468.26,765.10v1.8 M490.90,765.10v3.6" stroke="#3c3c3c" stroke-width="1" fill="none"/>
<path d="M219.25,765.10h-4.2 M219.25,752.80h-2.2 M219.25,740.51h-4.2 M219.25,728.21h-2.2 M219.25,715.92h-4.2" stroke="#3c3c3c" stroke-width="1" fill="none"/>
<text transform="translate(212.75,763.50) scale(0.85,1) rotate(-18.5)" y="5.2" text-anchor="end" font-family="Liberation Serif, serif" font-size="15.6" fill="#111" stroke="#111" stroke-width="0.1">0</text>
<text transform="translate(212.75,738.91) scale(0.85,1) rotate(-18.5)" y="5.2" text-anchor="end" font-family="Liberation Serif, serif" font-size="15.6" fill="#111" stroke="#111" stroke-width="0.1">25</text>
<text transform="translate(212.75,714.32) scale(0.85,1) rotate(-18.5)" y="5.2" text-anchor="end" font-family="Liberation Serif, serif" font-size="15.6" fill="#111" stroke="#111" stroke-width="0.1">50</text>
<text transform="translate(192.55,735.59) rotate(-90)" text-anchor="middle" font-family="Liberation Serif, serif" font-size="14.9" fill="#111" stroke="#111" stroke-width="0.1">d=0</text>
<g transform="translate(299.60,732.30) scale(0.925,1)" font-family="Liberation Serif, serif" font-size="15.8" fill="#222" stroke="#222" stroke-width="0.12"><text font-style="italic" font-size="15.0" x="0.6">μ</text><text font-style="italic" font-size="10.6" x="8.22" y="4.4">f</text><text font-size="5.2" font-style="italic" x="12.97" y="4.5">0</text></g>
<text transform="translate(373.90,732.30) scale(0.925,1)" text-anchor="end" font-family="Liberation Serif, serif" font-size="15.8" fill="#222" stroke="#222" stroke-width="0.12">=83.258m</text>
<g transform="translate(300.80,753.30) scale(0.925,1)" font-family="Liberation Serif, serif" font-size="15.8" fill="#222" stroke="#222" stroke-width="0.12"><text font-style="italic" font-size="15.6" x="0">σ</text><text font-style="italic" font-size="10.6" x="6.92" y="4.4">f</text><text font-size="5.2" font-style="italic" x="11.68" y="4.5">0</text></g>
<text transform="translate(373.90,753.30) scale(0.925,1)" text-anchor="end" font-family="Liberation Serif, serif" font-size="15.8" fill="#222" stroke="#222" stroke-width="0.12">=0.0065m</text>
<text transform="translate(218.05,775.50) scale(0.925,1) rotate(-15.5)" text-anchor="middle" y="5.2" font-family="Liberation Serif, serif" font-size="15.6" fill="#111" stroke="#111" stroke-width="0.1">83.10</text>
<text transform="translate(263.32,775.50) scale(0.925,1) rotate(-15.5)" text-anchor="middle" y="5.2" font-family="Liberation Serif, serif" font-size="15.6" fill="#111" stroke="#111" stroke-width="0.1">83.13</text>
<text transform="translate(308.60,775.50) scale(0.925,1) rotate(-15.5)" text-anchor="middle" y="5.2" font-family="Liberation Serif, serif" font-size="15.6" fill="#111" stroke="#111" stroke-width="0.1">83.16</text>
<text transform="translate(353.88,775.50) scale(0.925,1) rotate(-15.5)" text-anchor="middle" y="5.2" font-family="Liberation Serif, serif" font-size="15.6" fill="#111" stroke="#111" stroke-width="0.1">83.19</text>
<text transform="translate(399.15,775.50) scale(0.925,1) rotate(-15.5)" text-anchor="middle" y="5.2" font-family="Liberation Serif, serif" font-size="15.6" fill="#111" stroke="#111" stroke-width="0.1">83.22</text>
<text transform="translate(444.43,775.50) scale(0.925,1) rotate(-15.5)" text-anchor="middle" y="5.2" font-family="Liberation Serif, serif" font-size="15.6" fill="#111" stroke="#111" stroke-width="0.1">83.25</text>
<text transform="translate(489.70,775.50) scale(0.925,1) rotate(-15.5)" text-anchor="middle" y="5.2" font-family="Liberation Serif, serif" font-size="15.6" fill="#111" stroke="#111" stroke-width="0.1">83.28</text>
<text x="352.10" y="799.40" font-family="Liberation Serif, serif" font-size="16.2" font-style="italic" fill="#222">f<tspan font-size="11" dy="1.6">0</tspan><tspan dy="-1.6" font-size="15.8"> /m</tspan></text>
<text x="471.10" y="429.20" font-family="Liberation Serif, serif" font-size="14.5" fill="#1a1a1a">(c)</text>
<g transform="translate(254.40,625.90) scale(0.84,1)" font-family="Liberation Serif, serif" font-size="14.6" fill="#3030ff" stroke="#3030ff" stroke-width="0.1"><text x="0" y="0" font-style="italic" font-size="14">μ</text><text x="9.76" y="3.9" font-style="italic" font-size="9.4">f</text><text x="14.29" y="5.0" font-style="italic" font-size="5.8">0</text><text x="21.19" y="0">=</text><text x="33.45" y="0">83.258</text><text x="75.36" y="0">−</text><text x="84.52" y="0">13</text><text x="99.17" y="0" font-style="italic">d</text></g>
<line x1="335.40" y1="616.30" x2="343.66" y2="604.29" stroke="#4545ff" stroke-width="0.55"/>
<polygon points="346.60,600.00 345.22,605.36 342.09,603.21" fill="#2020ff"/>
</svg>
</body></html>
